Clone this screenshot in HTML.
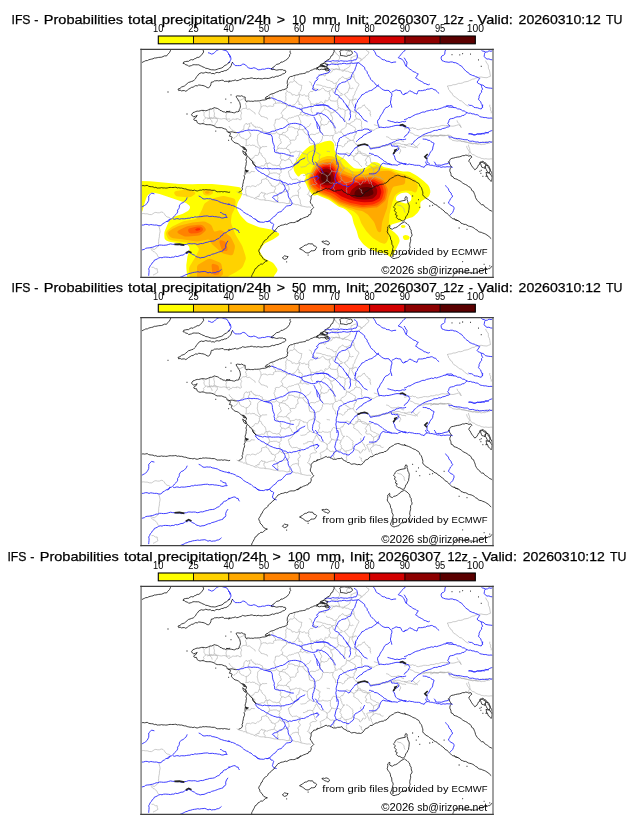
<!DOCTYPE html><html><head><meta charset="utf-8"><style>html,body{margin:0;padding:0;background:#fff;width:630px;height:828px;overflow:hidden}svg{display:block;will-change:transform}text{font-family:"Liberation Sans",sans-serif}</style></head><body><svg width="630" height="828" viewBox="0 0 630 828" font-family="Liberation Sans, sans-serif" fill="#000">
<defs><clipPath id="fc"><rect x="0" y="0" width="351.9" height="228"/></clipPath>
<g id="mapg"><path d="M225,0.5 226.2,2 227.9,2.7 227.4,4.2 226.4,5.5 224.6,6.6 223.6,8.4 221.9,9 220.9,10.6 219.3,11.3 217.9,13.4 M189.3,19.8 191.1,19.6 192.9,20.1 194.6,19.6 196.4,19.8 198.3,19.8 199.9,20.9 201.8,20.8 203.6,21.3 204.9,22 206.5,21.9 207.9,22.6 209.2,23.3 210.9,23.2 212.1,24.1 212.9,25.9 212.9,28 213.6,29.8 214.3,31.5 215.3,33 217.1,33.9 217.9,35.5 217.1,37 216.2,38.3 215.7,39.8 215,41.3 214.1,42.6 213.8,44.3 213.2,45.7 212.1,47 212,49 211.6,50.9 210.7,52.7 211.4,54.1 212.1,55.5 212.8,57 213.6,58.4 M175,35.5 176.8,35.5 178.5,35.8 180.2,36.1 181.8,37 183.6,37 185.4,37.9 187.3,38.3 189.3,38.4 190.7,39.6 191.8,41 192.1,43 193.6,44.1 M344.4,11.3 345.1,12.7 345.8,14.2 347,15.3 347.3,17 347.3,19 348.3,20.8 348.7,22.7 349,24.8 349.4,27 347.6,27.6 345.9,28.4 343.9,28.3 342,28.1 340.1,27.7 338,27.9 335.9,28.4 334.4,28.9 333.1,29.7 331.5,29.8 330.1,30.5 328.4,31.3 326.7,32.1 324.9,32.4 323,32.7 321.3,33.7 319.5,34.1 317.6,34 315.9,34.8 314,35.4 312,35.4 310.1,36.3 308,36.4 305.9,37 307.2,38.2 307.4,40.1 308.7,41.3 309.3,42.9 311,43.9 311.6,45.5 312.7,47 314.5,47.9 315.9,49.1 317.3,50 318.5,51.3 320.3,51.6 321.6,52.7 323,53.8 324.2,55.2 325.7,56.1 327.3,57 M69,59.7 68.2,61.7 68.3,64 68.1,65.9 68.4,67.8 69,69.7 70.5,71.2 71.1,73.3 M66.1,69.7 67.9,69.1 69.7,69.1 71.5,69.1 73.3,69 75.1,69.3 76.9,68.9 78.6,69.5 80.4,69.7 82.1,69.3 83.9,69.3 85.6,69.9 87.3,69.7 89,69.7 M226.4,79.7 228.4,80 230.3,80.5 232.1,81.1 233.6,80.5 234.8,79.3 236.4,78.9 237.9,78.3 M229.3,99.7 230.7,99 232.1,98.3 233.9,98.3 235.5,98.1 237.2,97.7 238.8,97 240.5,97.3 242.1,96.8 244,96.9 245.7,96.2 247.5,95.6 249.3,95.4 M252.1,95.4 253.9,95.8 255.8,95.8 257.5,96.7 259.3,96.8 261.1,97.8 263.1,97.8 265,98.3 M263,79.7 264.7,79.4 266.4,78.8 268.1,78.6 269.9,79 271.6,78.3 272.9,79.2 274.5,79 275.7,80.2 277.3,80.4 279,79.9 280.9,79.7 282.6,79 284.4,79 286.3,79.2 288,79.1 289.8,78.1 291.6,78.3 293.4,78 295.1,77.2 297,77.6 298.7,76.8 300.5,76.2 302.2,76.1 304.1,76.5 305.9,76.1 308,76.3 310.1,76.8 312,76.9 313.8,76.5 315.5,76 317.3,75.4 319,76.6 320.1,78.3 319.5,76.7 318.8,75.2 317.5,74 316.4,72.8 315.9,71.1 M281.6,86.1 283.3,86 284.9,86.2 286.6,86.7 288.3,86.3 289.9,86.4 291.6,86.8 293.3,86.4 295,86.7 296.7,86.7 298.4,86.1 300.1,86.1 301.9,86.3 303.6,86.5 305.3,86.2 307,85.8 308.7,86.1 310.2,86.8 311.3,88.3 312.9,88.9 314.4,89.7 315.9,90 317.2,90.8 318.8,90.7 320,92 321.6,92 323,92.5 324.7,92.9 326.4,93.1 328.2,93 329.8,93.8 331.6,94 333.3,94 335,94.3 336.7,95.1 338.5,94.7 340.1,95.4 341.8,94.9 343.6,95.1 345.2,94.3 347,94 348.7,94 M327.3,95.4 327.7,97.3 328.5,99.1 328.7,101.1 329.1,102.7 330.1,104 331.3,105.3 333.3,105.5 334.4,106.8 335.9,107.3 337.2,108 338.8,108.1 340,109.1 341.6,109.2 343,109.7 344.7,109.4 346.4,109.7 348.1,109.8 349.9,109.5 351.6,109.7 M263,95.4 264.9,96 266.7,96.6 268.7,96.8 270.6,97.3 272.5,97.8 274.4,98.3 275.7,97.4 276.7,96.2 277.7,95.1 278.7,94 M348.7,55.4 348.6,57.2 349.6,58.8 349.3,60.6 350.2,62.2 350.1,64 M289,87.5 290.6,87.5 292,86.5 293.5,86.5 295.1,86.5 296.9,86.9 298.6,86.1 300.4,86.4 302.2,86.5 303.9,86.1 305.6,86.1 307.3,86 308.2,87.6 308.3,89.5 310,89.6 311.2,91 312.8,91.3 314.4,91.5 316.1,91.9 317.8,91.6 319.5,91.8 321.2,92.3 322.9,92.2 324.6,92.6 326.4,93.1 328,94 330,94 331.7,94.6 333.2,94.2 334.8,94.6 336.3,94 337.8,93.6 339.3,92.9 340.8,93 342.4,93 343.9,92.6 345.7,92.2 347.4,92.4 349.2,92.8 351,92.6 M325.6,96.6 325.8,98.3 326.6,99.7 327.5,101.3 328.6,102.7 327.7,104.1 327.6,105.8 M228.3,98.8 230,98.5 231.6,98.2 233.3,98.4 235,97.7 236.7,97.9 238.3,97.4 239.9,96.8 241.5,96.6 243.1,96.2 244.8,96.2 246.4,95.6 248,95.3 249.7,95.3 251.4,94.6 253.3,94.5 255.1,94 256.9,93.8 258.7,94.1 260.3,95 262.2,95.1 264,95.3 265.8,95.5 267.5,94.6 269.3,94.6 271.1,94.5 272.8,95.2 273.9,96.8 275.5,97.6 276.9,98.8 M268.3,83.1 269.8,83.6 271.4,84.1 272.7,85 274,86 275.8,86.1 277.6,86.6 279.2,87.5 281.1,87.4 282.9,87.3 284.7,86.5 286.5,86.2 288.3,86 289.9,85.7 291.4,86.4 293,85.9 294.6,86.3 296.1,86.2 297.7,86.4 299.3,85.5 300.9,85.8 302.4,85.9 304,86 M256.9,96 258,97.2 258,99 259.2,100.2 259.7,101.7 258.8,103 258.3,104.5 M214,104.5 215.8,104.3 217.5,103.7 219.3,103.9 221.1,103.8 222.7,104.3 224.2,104.8 225.6,105.6 226.8,106.8 228.3,107.4 229.2,109.2 229.4,111.2 229.7,113.1 231.2,113.7 232.5,114.6 234.2,114.9 235.3,116.2 237,116.5 238.3,117.4 237.5,118.7 237,120.2 236.9,121.8 236.3,123.2 235.4,124.5 233.8,125.2 232,125.3 230.4,126 228.8,126.5 227,126.6 225.4,127.4 226.2,128.7 226.8,130.2 227.3,131.6 228,133 228.3,134.5 M245,87.4 246.7,87.7 248.2,88.5 249.4,89.8 251,90.4 252.5,90.2 254.1,90.2 255.6,90.1 257,89.4 258.6,90 259.9,91.1 261.3,92 263,92.4 M0.4,164.5 2.3,164.2 4.2,164.5 6.1,164.5 8.2,165.2 10.4,165.3 11.8,164.5 13.1,163.5 14.7,163.1 16.5,163.5 18.3,163.5 20.1,162.7 21.9,163.1 23,164.2 23.8,165.5 24.7,166.7 26,167.7 27.6,168 29,168.8 M95.6,142.4 96.9,143.2 98.3,143.8 99.8,144.3 101.3,144.5 102.5,145.5 104.3,145.2 105.4,146.6 107,146.7 108.5,147.1 109.8,147.9 111.4,148.1 112.7,148.8 114.5,149.7 116.6,149.3 118.4,150.3 120.3,150.6 122.3,150.5 124.1,151 126.1,151.1 128,151.3 129.9,151.7 131.6,152.2 133.4,152.7 135.2,152.6 137,153.1 138.8,153.4 140.6,153.3 142.4,153.4 144.1,153.8 145.9,154.4 147.7,154 149.5,154 151.3,154.5 153.1,154.7 154.8,155.5 156.7,155.3 158.4,156 160.3,156.7 162.2,157 164.1,157.4 166,157.8 168,157.6 169.9,158.1 M256,155.4 257.9,156.2 260,156.4 261.4,158 263,159.4 263.1,161.5 264,163.4 M17.6,176.5 18.2,178.4 18.7,180.3 19,182.3 18.6,184 18.3,185.7 18.3,187.4 17.9,189.1 17.6,190.8 17.6,192.5 17.3,194.2 17.6,195.8 16.8,197.2 15.7,198.3 14.5,199.2 13.3,200.1 11.8,199.9 10.5,198.9 9,198.7 M9.7,200.1 11,200.9 12,202.2 13.5,202.7 14.7,203.7 15.8,205 16.5,206.6 17.6,208 M10.4,218 12.4,218 14.1,219.4 16.1,219.4 16.2,221.3 16.9,223 15.3,224.1 13.6,225 11.9,225.8 M242.4,129.6 241.3,129.9 239.3,129.0 239.1,127.8 237.1,127.9 235.4,127.3 234.5,127.2 233.2,127.7 232.0,128.7 M232.4,138.0 231.7,137.8 231.4,136.4 231.2,135.8 230.4,135.2 230.2,134.2 230.4,132.7 229.2,132.3 229.1,131.5 M232.0,128.7 230.9,129.5 230.4,129.7 229.8,130.4 229.1,131.5 M211.8,130.3 212.7,131.3 213.5,131.4 214.5,132.3 215.9,132.4 217.0,133.2 218.2,133.5 218.4,135.2 219.1,135.6 M211.8,130.3 212.0,129.5 211.6,128.9 212.1,128.0 211.4,127.4 212.1,126.3 211.5,124.9 211.6,124.4 212.2,123.7 M219.8,120.4 219.5,122.5 220.3,123.3 221.0,124.4 222.2,126.3 222.7,127.1 223.0,126.7 223.2,127.4 223.3,128.6 224.8,130.2 224.8,131.5 M224.8,131.5 224.5,132.1 223.5,132.6 222.5,131.9 221.3,132.4 221.3,133.7 220.1,134.3 219.9,135.2 219.1,135.6 M222.3,144.7 221.6,144.1 220.7,143.7 220.2,142.2 220.1,141.8 220.5,140.6 219.7,140.6 218.4,139.7 218.5,139.0 M214.7,6.5 216.0,6.7 216.4,7.3 216.9,8.5 217.5,8.7 219.1,8.7 219.1,9.7 220.3,9.9 221.2,10.5 M232.0,128.7 231.9,127.6 232.4,126.5 231.7,125.1 231.3,123.9 232.4,122.7 232.5,121.9 232.3,120.6 232.7,119.7 M232.7,119.7 234.0,119.1 234.9,118.5 236.0,118.2 236.3,117.8 M238.1,76.9 236.4,76.3 235.1,76.1 233.8,75.6 232.8,75.4 M232.7,119.7 232.0,119.2 230.6,118.5 230.3,117.3 228.8,116.7 228.1,116.2 227.4,116.4 226.0,116.5 224.8,115.8 M211.8,130.3 210.9,130.9 210.5,132.0 209.2,132.2 208.3,132.6 207.8,133.0 206.7,133.1 205.9,133.1 204.8,133.4 M204.8,133.4 205.0,134.6 205.7,135.8 205.3,137.6 205.9,138.4 205.0,140.4 205.6,140.9 205.7,143.1 205.5,144.1 M212.2,123.7 211.3,122.8 210.5,122.6 209.7,121.9 209.3,121.1 208.1,120.2 207.5,119.6 206.0,118.6 204.9,118.7 M220.9,117.8 219.6,116.2 219.1,115.7 218.3,115.2 217.5,113.7 216.6,112.6 215.2,112.1 214.1,111.0 212.8,110.6 M224.8,115.8 224.6,114.1 225.7,113.8 225.3,112.5 224.1,110.9 225.0,109.7 225.1,109.1 226.5,107.9 226.7,106.9 M231.1,104.7 230.1,105.3 229.4,106.3 227.2,106.0 226.7,106.9 M204.8,133.4 203.2,133.5 202.7,132.2 202.0,131.4 200.7,130.6 M193.7,141.7 193.2,140.5 193.3,140.0 192.6,139.6 192.3,138.5 193.0,137.2 193.1,137.0 193.3,136.0 193.0,135.0 M193.0,135.0 193.6,133.9 194.6,134.4 196.2,133.5 196.7,132.9 198.2,132.5 199.4,132.7 199.8,131.2 200.7,130.6 M203.6,118.7 201.9,119.4 201.8,120.8 200.6,122.0 199.8,123.4 M199.8,123.4 199.9,124.6 199.0,124.8 198.9,126.3 199.3,126.8 200.4,128.1 200.0,129.2 200.5,130.0 200.7,130.6 M60.4,61.3 61.9,61.6 62.5,62.3 63.3,63.8 62.8,64.2 62.9,65.3 63.0,66.6 63.6,67.2 64.3,68.6 M73.2,58.3 72.8,59.4 72.9,60.4 72.7,62.2 73.2,63.3 73.4,64.7 73.1,65.7 73.1,66.6 74.0,67.9 M74.0,67.9 72.9,67.7 71.3,68.7 70.2,68.1 69.6,68.4 67.9,68.7 67.2,68.8 65.5,68.5 64.3,68.6 M64.3,68.6 64.1,69.2 63.4,70.0 63.0,70.2 62.2,70.9 63.0,72.3 62.5,72.8 61.7,74.2 61.6,74.7 M105.9,146.3 105.4,145.3 104.7,143.8 104.6,142.9 104.7,141.5 104.3,140.3 104.7,139.5 105.3,137.5 105.9,136.7 M74.0,67.9 74.8,68.3 75.8,68.7 75.9,69.5 76.3,70.0 M76.3,70.0 76.3,71.4 76.3,72.0 75.3,72.4 75.3,73.2 74.1,74.2 73.8,75.6 73.6,76.3 73.9,77.1 M85.3,69.3 85.2,68.6 85.1,67.7 84.8,66.8 85.3,65.1 85.5,65.0 85.9,63.5 86.2,62.6 87.2,61.8 M96.8,50.8 97.9,51.4 98.8,50.7 99.4,50.8 100.8,50.1 100.7,50.2 101.6,49.8 102.6,49.4 103.4,48.4 M98.3,61.1 99.4,61.7 M99.4,61.7 100.2,60.8 100.7,60.1 101.3,59.6 101.7,59.4 102.7,59.1 103.5,59.2 104.0,58.8 105.0,59.0 M105.0,59.0 105.7,57.8 105.0,56.8 105.2,55.6 104.1,54.7 104.9,54.0 105.9,53.0 105.7,52.0 106.1,50.8 M133.2,142.8 133.3,141.0 133.8,140.7 134.5,139.4 133.8,137.6 M133.2,142.8 131.8,143.3 130.6,143.2 129.8,143.5 128.3,143.9 127.1,144.3 125.7,145.1 125.1,144.4 123.8,144.5 M133.8,137.6 133.4,137.6 132.7,136.7 131.1,137.0 130.9,135.9 129.9,136.1 130.1,135.6 129.7,134.2 128.5,133.9 128.6,133.4 127.7,132.3 127.9,131.6 126.8,131.0 126.4,130.6 125.9,129.8 125.3,130.0 124.7,129.1 M123.8,144.5 123.3,143.5 122.0,143.8 121.1,143.8 120.7,142.6 M118.0,135.1 118.9,134.4 120.3,133.7 120.5,131.8 120.4,130.6 M124.7,129.1 123.8,129.7 123.0,129.8 121.8,130.0 120.4,130.6 M124.3,151.0 123.8,150.4 124.3,149.3 123.0,148.2 122.7,147.8 122.8,146.7 122.8,145.7 123.9,145.3 123.8,144.5 M136.8,153.1 136.9,152.3 137.1,151.0 136.3,150.8 136.6,149.3 137.2,148.4 136.2,147.7 136.2,146.9 136.4,146.4 M136.4,146.4 136.2,144.9 135.1,144.4 134.3,143.8 133.2,142.8 M113.4,149.0 114.4,148.2 115.8,148.0 116.3,147.0 118.0,147.2 118.1,145.5 118.8,144.5 120.3,143.4 120.7,142.6 M105.9,136.7 106.8,137.3 107.6,137.1 108.5,137.0 109.3,137.5 109.5,137.5 110.1,137.0 111.0,136.5 112.0,136.5 112.6,136.7 114.1,137.2 114.8,137.3 115.3,136.8 115.5,136.4 116.5,135.4 117.3,135.7 118.0,135.1 M113.7,122.3 112.9,122.4 111.5,122.2 110.0,122.1 109.6,123.3 107.6,123.9 107.2,123.2 105.9,123.8 104.5,123.8 M212.8,110.6 212.4,109.9 212.9,108.9 212.8,108.1 212.7,106.9 M226.7,106.9 225.2,106.5 224.1,106.3 222.7,106.1 220.9,105.4 220.2,104.7 219.8,103.9 219.1,101.9 217.2,102.0 M212.7,106.9 214.0,106.5 214.5,106.0 214.9,106.1 215.4,105.5 216.2,104.6 216.1,103.7 217.0,102.6 217.2,102.0 M180.2,141.2 179.5,139.3 179.9,137.9 179.5,136.5 178.8,135.5 M193.0,135.0 192.2,133.6 191.4,133.6 190.2,134.0 188.6,133.6 188.4,132.9 186.9,131.8 186.0,131.4 185.9,130.2 M178.8,135.5 179.6,135.1 180.3,134.7 182.1,134.2 182.3,133.6 183.8,133.0 184.4,132.4 185.7,131.6 185.9,130.2 M153.5,31.4 153.9,32.1 155.4,32.7 155.6,33.7 156.6,34.2 158.1,35.4 158.4,35.5 160.2,36.0 160.9,36.0 M153.1,26.5 153.6,27.3 153.2,29.2 152.7,30.0 153.5,31.4 M157.7,45.3 156.8,45.9 155.8,46.0 155.6,46.3 154.5,46.1 153.4,45.3 153.1,45.4 152.0,45.4 151.0,45.9 150.8,45.2 150.6,44.2 149.5,43.7 149.1,43.7 148.5,42.8 147.6,43.0 146.9,42.4 146.0,42.0 M144.4,39.6 145.3,40.6 146.0,42.0 M153.5,31.4 152.0,32.2 151.1,33.0 150.0,32.6 148.9,32.7 147.9,34.0 147.3,35.1 146.4,35.7 146.5,36.7 M157.7,45.3 158.0,45.1 M158.0,45.1 157.8,43.5 158.4,42.7 159.3,41.9 159.6,40.8 160.4,39.4 160.2,38.7 160.5,37.0 160.9,36.0 M88.1,76.7 88.3,78.0 89.9,79.3 91.0,80.5 91.5,81.5 93.2,81.8 95.0,83.1 95.8,83.3 97.5,83.7 M88.0,72.6 88.8,71.1 90.6,70.8 91.2,70.0 91.7,69.6 92.5,69.8 93.6,70.0 94.6,69.9 95.3,70.2 95.4,69.3 96.9,69.5 97.6,69.6 97.9,70.3 99.0,70.4 99.7,70.5 M97.6,83.7 98.5,82.7 100.5,81.7 101.3,80.5 102.6,80.4 102.8,78.1 102.9,76.6 103.7,75.4 104.5,74.4 M92.8,89.5 92.7,88.8 93.8,88.3 94.6,87.5 95.9,86.8 96.2,86.1 96.3,85.5 97.3,84.4 97.5,83.7 M85.3,69.3 85.1,70.1 86.4,71.1 87.5,72.1 88.0,72.6 M99.4,61.7 100.2,62.9 100.6,63.8 100.0,64.9 99.8,65.8 99.7,66.8 99.8,67.9 100.4,69.7 99.7,70.5 M120.0,57.7 119.8,56.0 119.8,55.1 119.3,54.1 118.4,52.6 M120.0,57.7 121.2,57.0 122.9,56.2 123.3,56.5 124.9,56.5 124.8,56.8 126.3,57.5 127.8,56.8 129.2,56.7 130.4,57.0 132.0,57.1 M132.0,57.1 132.8,56.4 132.3,55.0 133.1,54.5 134.4,54.0 M134.4,54.0 134.4,52.5 133.6,51.2 132.3,50.5 132.9,49.5 131.8,48.1 132.0,46.8 131.3,45.5 131.3,44.4 M146.0,42.0 145.2,43.0 144.9,43.6 144.7,44.5 144.5,44.4 144.9,45.5 144.9,46.4 144.5,47.4 144.8,48.6 144.8,49.2 144.7,49.8 145.0,50.7 144.8,51.1 144.4,51.7 143.5,52.4 143.7,53.3 143.5,54.4 M143.5,54.4 142.1,54.4 140.9,54.2 139.9,53.9 139.0,53.3 138.1,53.7 136.4,53.6 135.3,54.0 134.4,54.0 M136.4,146.4 137.3,145.9 138.6,144.3 139.8,143.6 141.4,143.5 142.4,142.5 144.6,142.4 145.5,142.2 147.2,142.3 M147.5,154.1 148.3,153.3 148.6,151.7 148.4,150.9 149.2,150.1 149.5,149.0 150.5,147.7 150.8,147.4 152.0,146.6 M160.1,156.4 160.0,155.4 159.2,153.8 159.2,152.2 159.2,151.6 158.5,149.6 158.1,148.9 157.4,148.2 157.3,146.4 M152.0,146.6 153.1,146.5 154.8,145.9 156.0,146.2 157.3,146.4 M166.3,145.1 167.3,145.7 168.7,146.0 168.6,147.3 169.7,148.0 M157.3,146.4 157.5,146.2 M133.8,137.6 134.8,136.7 135.3,136.4 135.6,136.3 136.4,135.8 137.5,135.4 137.6,134.4 138.0,133.8 138.9,133.6 M147.2,142.3 146.9,141.5 146.9,140.8 148.3,140.2 147.7,138.7 147.8,138.0 147.2,137.3 147.6,137.0 146.6,135.8 M138.9,133.6 139.9,134.7 140.8,135.0 141.8,135.1 142.3,135.8 143.9,136.0 144.3,135.5 146.0,136.2 146.6,135.8 M158.7,131.2 157.8,131.2 156.6,130.4 155.8,130.0 155.6,129.6 153.7,130.1 152.7,129.6 152.0,130.4 151.4,130.5 M158.7,131.2 158.7,132.6 159.1,133.6 158.5,134.6 157.4,134.8 157.6,136.4 158.6,137.3 159.2,138.1 159.1,138.8 158.8,139.6 157.7,140.5 156.9,140.9 156.8,142.7 157.6,142.8 157.4,144.3 157.2,145.2 157.5,146.2 M203.6,118.7 202.1,118.6 201.2,117.7 200.7,116.5 200.8,115.5 199.7,114.6 199.9,113.6 199.5,112.3 198.7,111.2 M212.7,106.9 211.6,106.9 210.8,105.6 209.4,105.9 208.3,104.2 207.1,104.1 205.9,103.3 204.7,104.0 203.9,104.4 M203.9,104.4 203.7,105.7 203.3,106.4 202.8,107.4 202.0,108.1 201.7,109.4 200.4,109.2 199.7,110.1 198.7,111.2 M143.5,54.4 144.7,55.5 145.4,56.4 M145.4,56.4 147.1,56.5 148.0,56.8 M157.7,45.3 157.9,45.9 158.8,46.5 158.2,47.8 157.9,48.5 157.1,49.3 156.9,51.2 M156.9,51.2 156.2,51.7 155.3,53.3 154.6,54.0 153.2,55.6 151.7,55.9 150.9,56.3 149.6,56.8 148.0,56.8 M105.3,90.1 104.3,90.5 102.9,89.1 101.3,88.8 100.1,88.4 99.1,86.9 98.0,86.3 98.6,85.4 97.6,83.7 M105.3,90.1 105.2,92.1 105.2,93.2 105.1,95.3 104.5,96.3 M145.4,56.4 145.4,56.8 145.5,57.8 144.9,58.7 144.0,59.6 143.3,59.5 142.8,60.8 141.9,60.6 141.7,61.5 141.3,62.1 140.2,63.5 140.0,64.2 140.7,65.1 141.4,65.7 141.7,66.5 141.2,67.8 141.1,68.5 M141.1,68.5 140.1,67.9 139.7,68.5 138.7,69.5 138.2,69.8 137.2,70.0 136.6,69.8 135.8,70.0 134.8,69.8 M192.2,110.0 191.4,110.8 190.8,112.3 190.4,113.3 189.2,114.2 M179.2,105.4 178.2,106.9 178.1,107.8 177.9,108.4 178.7,110.5 177.8,111.8 177.1,112.8 177.9,113.4 177.5,114.8 M188.9,102.3 188.2,102.3 187.7,102.1 186.9,102.2 185.6,101.8 M177.5,114.8 179.1,114.7 180.6,114.8 181.5,113.6 183.2,114.5 185.2,114.6 186.7,114.8 187.7,114.3 189.2,114.2 M199.8,123.4 198.4,122.7 197.6,122.2 196.5,122.2 195.0,122.5 193.7,122.5 192.9,122.3 191.3,121.6 190.6,122.6 M198.7,111.2 198.3,111.1 197.2,110.8 195.9,110.9 195.0,111.2 194.5,110.1 194.0,110.4 192.8,109.8 192.2,110.0 M189.2,114.2 189.4,115.2 189.2,116.1 189.4,117.7 189.3,118.0 189.3,119.8 189.6,120.1 190.4,121.2 190.6,122.6 M185.9,130.2 186.2,129.3 186.2,128.7 186.1,128.2 186.3,127.0 M190.6,122.6 189.1,123.6 188.8,125.4 187.5,125.7 186.3,127.0 M135.3,83.2 136.6,84.0 137.0,84.3 137.9,84.9 138.7,85.2 M129.2,84.9 130.0,84.8 130.6,84.1 131.2,84.5 132.0,84.3 132.9,84.5 133.8,84.3 134.3,84.0 135.3,83.2 M135.3,100.8 135.7,100.2 136.8,99.6 M136.8,99.6 136.8,99.0 136.6,97.3 137.0,96.8 137.9,95.5 138.4,95.1 138.9,94.4 140.0,94.0 140.2,92.6 139.2,91.4 139.4,90.7 139.5,89.9 138.9,89.3 137.8,88.4 138.3,87.3 138.6,86.1 138.7,85.2 M212.5,39.2 211.9,38.6 210.3,39.4 209.7,39.0 208.2,38.9 M213.0,27.7 212.2,27.8 210.4,26.9 210.0,27.5 208.7,27.6 208.5,28.2 206.6,28.9 206.1,29.2 205.0,29.2 M208.2,38.9 208.6,37.5 208.7,36.5 207.9,34.9 207.5,33.6 206.9,32.8 206.4,31.4 205.7,30.1 205.0,29.2 M187.9,42.6 188.4,41.3 189.2,41.5 190.3,40.8 191.3,39.5 191.4,39.2 193.1,39.2 193.5,38.9 194.9,38.7 M188.2,49.8 187.8,48.4 188.3,48.4 189.2,47.2 189.0,45.8 188.7,45.2 188.0,44.7 188.5,43.0 187.9,42.6 M194.9,38.7 195.7,40.1 196.7,40.2 197.1,41.3 197.9,42.2 198.9,43.3 199.8,44.3 200.9,44.2 201.7,45.2 M188.2,49.8 189.3,50.6 189.5,51.4 190.8,51.6 192.0,51.7 193.0,51.7 193.8,52.0 195.4,51.6 196.0,51.8 M196.0,51.8 196.4,51.0 196.7,50.1 197.4,48.5 197.7,47.5 198.7,46.9 199.1,45.8 201.0,45.9 201.7,45.2 M166.5,105.1 165.2,105.1 164.4,104.6 163.9,104.7 162.2,104.3 162.7,104.3 161.5,103.7 160.3,102.9 159.6,102.4 M155.6,115.3 156.0,113.9 156.4,113.7 155.7,112.6 155.8,111.8 155.4,110.9 155.2,109.6 155.2,109.4 156.0,108.5 157.0,108.4 157.7,107.4 157.7,106.1 158.1,106.1 158.2,104.9 158.6,104.2 158.7,103.4 159.6,102.4 M166.5,105.1 166.2,105.9 166.2,107.3 166.5,108.7 166.6,109.2 166.7,110.9 167.2,111.7 167.5,112.4 168.8,113.2 M159.3,117.5 160.2,117.8 162.5,117.5 163.5,117.4 165.0,116.8 166.1,115.8 166.4,115.0 168.2,114.4 168.8,113.2 M166.5,105.1 166.8,104.2 167.8,103.3 167.9,103.0 169.3,102.3 169.7,102.1 170.6,102.2 171.3,101.4 172.5,101.4 M179.2,105.4 178.2,104.9 177.2,104.6 177.2,103.8 176.1,103.7 174.5,102.5 174.1,101.5 173.4,101.8 172.5,101.4 M168.8,113.2 169.5,113.7 170.3,113.9 170.9,115.0 172.4,114.7 173.4,115.3 173.6,115.1 174.6,116.4 175.4,116.9 M186.3,127.0 185.0,126.5 185.4,126.2 184.0,125.4 182.8,124.4 182.3,124.6 181.2,124.0 180.7,124.1 179.9,123.9 179.1,122.9 178.3,122.4 177.7,121.0 177.7,120.8 176.8,119.9 176.5,119.4 175.7,117.6 175.4,117.4 M201.9,97.9 200.8,96.9 200.0,96.6 199.7,96.3 198.6,96.2 197.2,96.3 195.9,96.2 195.5,96.7 194.4,96.4 M110.3,109.7 110.9,109.1 112.7,108.4 113.2,107.1 114.0,106.0 116.2,106.2 117.3,105.6 117.4,104.3 118.3,102.9 M110.3,109.7 110.6,110.4 111.3,111.7 112.2,112.2 113.8,113.2 113.8,113.9 113.4,115.1 114.4,116.2 115.4,117.3 M118.3,102.9 118.6,103.8 119.6,103.6 120.3,104.6 120.2,105.4 121.0,106.6 121.8,106.8 121.5,107.2 122.2,107.9 123.1,108.8 124.0,109.2 124.0,109.5 124.4,110.5 124.8,111.6 124.6,112.7 125.4,113.4 125.2,113.9 M115.4,117.3 116.7,117.2 117.9,117.5 119.4,117.0 120.7,116.4 122.3,116.7 123.7,116.1 123.9,114.6 125.2,113.9 M119.2,98.9 118.4,98.8 117.5,98.9 116.7,98.0 115.6,97.4 114.6,97.5 113.9,96.5 113.4,95.8 111.8,96.1 111.6,95.6 110.6,96.1 109.6,96.3 108.6,95.4 107.9,95.9 106.7,96.2 105.9,96.2 104.5,96.3 M119.2,98.9 119.0,100.1 118.0,100.6 118.5,101.5 118.3,102.9 M108.3,109.5 109.5,109.6 110.3,109.7 M126.0,97.3 125.0,97.2 124.8,97.3 123.7,97.1 123.1,97.6 121.7,97.1 120.8,97.6 120.6,98.2 119.5,98.6 M119.2,98.9 119.5,98.6 M125.2,113.9 126.0,114.1 M126.0,114.1 127.5,114.2 127.8,113.3 M124.7,129.1 125.7,128.3 125.6,127.0 126.0,126.5 127.2,125.9 M126.0,114.1 126.1,115.8 126.3,117.2 126.9,118.1 127.0,118.8 127.1,119.5 128.2,120.1 127.5,121.1 128.5,122.5 128.2,124.1 127.2,125.9 M138.9,133.6 138.9,132.9 138.5,131.6 139.2,130.5 138.6,129.4 137.9,128.3 138.9,126.3 138.7,125.7 137.8,124.7 M127.2,125.9 128.5,124.5 129.1,124.0 131.2,123.9 132.5,123.6 134.2,123.7 135.3,123.6 136.8,124.6 137.8,124.7 M129.2,84.9 129.0,84.2 128.0,83.8 126.4,83.2 125.4,83.0 125.3,82.7 123.6,82.4 123.2,82.3 122.1,81.7 M119.5,98.6 119.2,97.4 118.0,96.6 117.2,95.3 116.9,94.1 116.6,92.4 116.1,90.6 116.5,89.0 116.5,88.0 M122.1,81.7 121.5,82.5 120.6,82.9 119.0,83.5 118.8,83.7 117.4,84.8 116.6,85.9 116.5,87.2 116.5,88.0 M104.5,74.4 105.9,74.3 106.3,75.2 107.4,74.5 108.5,74.4 M105.3,90.1 107.1,89.7 107.8,88.7 108.7,87.4 110.0,86.6 M108.5,74.4 108.5,75.2 108.5,75.6 108.8,77.2 108.1,77.1 107.6,78.2 107.0,79.4 107.9,79.9 107.1,81.0 107.7,82.0 108.0,82.4 108.4,82.8 108.6,83.9 109.4,83.9 109.7,85.1 109.4,86.2 110.0,86.6 M141.1,68.5 142.2,68.6 143.0,69.7 144.4,69.8 145.3,70.7 M145.3,70.7 146.2,70.2 148.0,68.6 149.4,68.7 151.1,68.0 152.5,67.9 153.4,67.0 154.4,67.0 156.1,66.3 M205.8,0.0 206.5,1.9 205.9,3.4 205.4,4.6 206.2,5.9 M193.1,0.0 193.5,1.1 193.3,2.2 194.7,2.9 194.7,4.0 195.8,4.6 197.1,6.1 198.1,6.6 198.4,7.7 M214.7,6.5 213.9,6.7 212.5,7.1 211.0,8.1 209.9,8.0 M208.9,16.3 208.7,15.6 209.6,14.2 210.2,12.9 210.9,12.7 210.2,11.5 209.7,10.3 210.0,8.9 209.9,8.0 M196.3,13.3 197.1,12.0 197.2,10.6 198.6,9.5 198.4,7.7 M196.3,13.3 194.9,14.1 193.9,13.8 192.4,13.6 190.8,13.9 189.4,12.1 187.6,11.7 186.4,12.2 185.0,12.0 M208.2,38.9 207.6,39.8 207.8,40.6 206.8,42.0 206.6,43.1 205.3,43.5 204.2,44.2 204.1,44.9 203.0,45.1 M194.9,38.7 194.9,37.6 194.6,36.3 195.2,35.3 195.1,33.7 M205.0,29.2 204.1,29.1 203.1,28.9 202.2,28.1 201.9,27.3 M195.1,33.7 196.0,32.8 197.0,32.0 197.3,31.5 198.0,29.6 199.3,29.4 199.7,28.8 200.6,27.9 201.9,27.3 M184.4,12.5 184.7,13.8 184.9,15.3 185.5,16.2 186.4,17.5 186.5,19.5 187.0,21.0 186.6,22.2 186.3,23.3 M196.3,13.3 197.2,14.0 197.0,15.0 196.9,15.8 197.0,16.5 197.7,17.4 198.2,18.7 198.2,19.8 199.0,20.4 M186.3,23.3 187.6,23.9 188.1,23.0 189.5,23.4 190.2,22.7 190.7,22.6 191.5,21.1 191.5,20.9 192.5,19.9 192.6,20.6 193.6,20.4 194.5,20.0 195.4,19.7 196.0,20.1 197.2,20.3 198.1,20.6 199.0,20.4 M208.9,16.3 208.4,17.4 206.8,18.5 205.9,18.9 204.9,19.8 203.6,19.8 203.5,20.7 202.0,22.0 200.6,21.7 M207.0,59.8 207.4,58.9 206.8,57.4 207.4,56.8 207.9,55.2 208.1,54.0 208.4,53.7 208.2,52.6 209.0,51.3 M207.0,59.8 208.5,59.8 209.4,60.7 209.3,61.4 210.5,61.8 211.5,62.2 212.6,62.8 214.3,62.8 215.1,62.7 M209.0,51.3 209.4,50.6 210.9,50.8 211.3,50.2 212.1,50.8 213.6,50.2 213.8,49.5 215.5,50.0 216.0,49.8 M215.1,62.7 215.1,60.8 216.7,60.1 216.9,58.7 218.4,58.6 219.9,58.5 220.8,57.6 221.6,56.2 223.4,55.9 M223.4,55.9 223.5,55.3 M203.0,45.1 203.9,46.2 204.8,46.9 204.9,47.2 206.1,48.2 206.6,49.2 207.5,49.8 208.0,50.6 209.0,51.3 M229.8,67.1 229.3,66.3 229.6,65.2 228.9,65.1 228.9,63.7 229.2,63.4 229.0,62.0 228.7,61.0 227.4,61.2 227.3,60.8 226.8,59.5 225.9,58.7 225.5,58.9 224.5,57.7 224.3,57.2 223.6,56.4 223.4,55.9 M220.1,71.7 219.3,71.0 218.6,69.7 216.9,70.1 216.0,69.3 M216.0,69.3 214.8,68.3 214.5,67.8 214.4,66.7 214.4,65.7 215.1,65.3 214.8,64.3 215.1,63.2 215.1,62.7 M229.9,67.1 229.8,67.1 M172.5,101.4 173.0,99.4 173.3,97.9 173.3,96.6 172.9,95.3 M172.9,95.3 171.7,94.3 170.5,94.4 168.6,93.7 168.2,91.9 M172.9,95.3 173.6,94.7 174.7,95.0 175.8,94.5 176.7,93.9 177.6,94.2 178.2,93.5 179.3,92.5 179.9,92.2 M161.9,126.3 163.7,126.2 164.6,125.5 166.1,125.3 166.8,123.7 167.5,124.2 168.9,123.8 170.9,124.3 171.8,124.1 M171.8,124.1 171.7,125.2 172.5,126.8 172.5,128.0 172.8,129.6 174.0,130.7 173.6,132.5 175.0,133.5 175.9,134.5 M169.0,136.9 169.7,136.3 170.8,135.9 171.1,135.5 172.0,135.2 173.2,135.3 174.1,135.4 175.2,134.5 175.9,134.5 M158.7,131.2 159.6,130.7 M166.3,145.1 167.6,143.8 167.7,143.4 168.2,142.3 168.2,141.6 169.0,140.0 169.5,139.5 168.8,137.5 169.0,136.9 M175.4,117.4 175.3,118.1 174.1,118.7 174.1,120.2 174.1,120.5 172.9,121.7 172.8,122.5 172.5,123.4 171.8,124.1 M215.3,83.4 215.3,84.4 213.9,85.1 214.0,86.4 212.7,87.1 213.1,87.8 213.2,89.0 212.2,90.1 212.2,91.1 M216.8,95.6 216.0,95.3 214.8,95.1 215.0,94.2 214.3,94.3 213.1,93.0 213.1,92.5 212.5,91.8 212.2,91.1 M216.8,95.6 217.7,95.3 M207.2,74.4 208.2,74.7 208.6,75.1 209.5,75.9 209.5,75.9 211.4,76.6 212.6,77.9 212.7,77.8 213.8,78.1 214.5,79.5 214.9,80.2 213.7,80.8 213.9,82.4 215.3,82.6 215.3,83.4 M207.2,74.4 208.7,74.8 209.3,73.6 210.7,72.8 212.2,72.2 213.6,71.3 213.4,70.2 215.4,69.6 216.0,69.3 M220.1,71.7 220.9,72.5 220.3,73.5 220.5,75.1 220.1,76.1 220.4,77.1 220.9,77.7 220.8,79.3 220.9,80.4 M205.7,74.2 205.0,75.7 205.0,77.0 204.5,77.9 203.0,79.1 202.5,79.4 200.7,80.1 199.7,81.6 200.0,82.9 M207.2,74.4 205.7,74.2 M209.1,91.3 209.2,90.5 208.5,90.4 207.6,89.9 207.0,88.8 206.2,89.1 205.6,88.0 205.0,88.2 204.5,87.6 202.7,86.1 202.4,85.6 201.0,83.6 200.0,82.9 M209.1,91.3 210.6,91.1 212.2,91.1 M217.2,102.0 216.7,101.3 216.9,100.8 216.5,99.3 216.4,98.5 216.2,98.3 215.8,96.8 216.6,96.2 216.8,95.6 M201.9,97.9 202.6,97.2 203.6,95.9 203.8,94.6 204.9,94.3 206.4,93.2 206.5,91.8 208.0,91.8 209.1,91.3 M196.0,51.8 196.7,52.4 196.0,53.5 196.9,54.1 196.5,55.3 197.2,56.1 196.9,56.1 196.8,57.7 197.3,58.2 M207.0,59.8 206.6,60.5 205.4,60.8 205.2,61.1 204.2,61.3 M197.3,58.2 198.2,58.6 199.4,59.0 199.3,59.8 200.8,59.7 201.7,59.6 202.8,60.4 203.5,60.7 204.2,61.3 M205.7,74.2 205.3,73.0 204.6,72.6 204.1,71.0 203.0,70.4 M204.2,61.3 203.7,62.7 204.2,63.6 203.8,65.3 203.8,65.5 203.9,66.8 203.4,67.7 203.0,69.6 203.0,70.4 M138.0,115.8 138.2,116.6 138.9,116.8 139.5,118.2 140.0,119.1 139.6,120.1 140.5,120.6 139.5,121.2 140.1,122.1 M138.0,115.8 139.0,114.7 139.6,113.2 139.6,112.0 140.9,110.8 M140.9,110.8 141.9,110.4 142.6,110.5 143.0,111.1 144.3,111.4 145.2,110.7 145.4,110.8 146.2,110.4 147.0,109.8 M147.1,122.9 147.7,121.6 148.4,121.3 149.7,120.5 150.3,119.7 151.3,118.9 151.6,117.6 153.0,116.5 152.7,115.6 M147.0,109.8 148.3,110.1 149.3,110.5 149.5,111.1 150.2,112.0 150.6,113.6 151.0,113.7 151.5,114.7 152.7,115.6 M127.8,113.3 129.4,114.1 130.4,114.8 131.8,115.8 132.6,115.9 133.9,115.8 135.5,116.5 137.0,116.2 138.0,115.8 M137.8,124.7 138.6,124.5 139.6,123.6 140.1,123.3 140.1,122.1 M135.3,100.8 135.8,102.5 136.6,103.1 137.9,103.9 139.0,104.8 139.9,106.5 138.9,108.5 140.1,109.5 140.9,110.8 M136.8,99.6 138.3,98.7 139.3,99.2 139.5,98.9 141.2,99.1 142.4,99.5 143.4,99.1 144.0,99.1 145.3,99.1 M145.3,99.1 146.0,100.1 148.0,100.4 148.0,101.7 149.0,103.1 M149.0,103.1 149.5,104.4 148.8,105.1 148.3,105.7 148.8,107.2 149.0,107.2 148.5,108.7 147.3,109.3 147.0,109.8 M151.4,130.5 150.9,129.7 149.5,128.8 149.5,127.8 148.4,127.4 148.3,125.9 147.8,124.6 147.9,123.5 147.1,122.9 M155.6,115.3 153.9,115.0 152.7,115.6 M159.2,101.8 157.3,102.2 156.3,102.3 155.3,101.7 154.3,101.7 153.5,102.8 151.6,102.9 150.6,103.1 149.0,103.1 M126.5,70.2 126.0,68.6 124.2,68.2 122.8,67.5 121.2,67.3 120.0,67.1 119.4,65.7 117.9,64.8 117.8,63.1 M121.4,79.7 121.1,79.4 119.6,79.0 118.9,78.7 118.4,77.8 117.6,78.2 116.2,77.7 115.7,77.5 115.1,78.3 114.1,78.1 114.0,76.7 113.2,77.0 111.8,76.3 112.2,75.6 111.3,75.4 110.5,74.5 110.3,73.4 M134.8,69.8 133.9,71.0 134.8,71.5 133.6,72.6 134.1,73.2 133.7,74.3 133.1,75.0 132.9,76.1 133.1,76.3 133.5,77.1 133.5,77.9 134.3,78.5 133.8,79.8 134.6,80.4 134.5,81.4 135.1,82.1 135.3,83.2 M122.1,81.7 121.1,81.2 121.4,79.7 M120.0,57.7 119.5,59.4 119.1,60.2 118.4,62.0 117.8,63.1 M108.5,74.4 109.4,73.8 110.3,73.4 M105.0,59.0 106.3,60.0 108.2,59.6 109.3,60.4 110.1,61.1 111.5,62.1 112.6,62.9 113.7,63.5 114.2,65.1 M140.0,85.1 141.2,85.4 142.2,85.7 144.3,85.9 144.8,87.3 146.8,87.9 147.1,88.7 147.9,89.5 149.2,91.0 M140.0,85.1 141.3,84.6 141.8,83.0 143.2,83.4 144.6,82.9 145.7,81.9 146.9,80.9 146.3,79.3 147.6,78.1 M147.6,78.1 149.1,77.8 150.1,77.5 151.8,78.0 153.2,78.4 153.6,79.5 155.5,79.3 157.0,79.6 157.6,80.8 M157.6,80.8 156.7,81.6 156.4,82.6 156.8,84.1 157.1,86.0 155.9,86.3 154.9,87.7 154.9,88.7 154.7,89.9 M154.7,89.9 153.4,90.9 152.0,90.7 150.2,91.0 149.2,91.0 M145.3,99.1 145.7,97.7 146.8,96.9 147.2,95.9 148.3,95.7 149.3,94.6 149.9,93.8 148.9,92.1 149.2,91.0 M138.7,85.2 140.0,85.1 M145.3,70.7 146.0,71.7 146.6,72.9 147.0,73.2 147.7,73.9 147.3,75.1 148.3,76.3 147.7,77.2 147.6,78.1 M158.6,80.1 158.2,79.0 158.0,78.3 158.7,77.3 158.6,76.5 158.8,75.9 158.7,74.8 159.5,74.1 159.8,73.0 159.6,72.4 159.3,71.2 159.0,70.8 158.3,69.7 158.5,68.9 158.0,68.0 157.5,67.4 157.1,66.5 M158.6,80.1 157.6,80.8 M156.1,66.3 157.1,66.5 M168.4,85.8 168.3,87.2 167.5,88.6 168.0,90.4 168.2,91.9 M162.0,80.3 161.9,81.0 163.1,82.6 163.3,83.3 164.3,83.9 165.2,85.1 166.3,85.7 167.4,85.6 168.4,85.8 M162.0,80.3 161.2,80.3 160.1,80.3 159.4,80.3 158.6,80.1 M177.4,25.3 177.8,25.5 178.6,25.9 180.1,26.0 180.9,25.7 181.6,25.6 182.3,25.3 182.9,26.6 184.1,26.6 M168.7,32.6 170.0,33.4 170.3,33.9 170.3,35.7 171.1,36.5 172.4,37.7 172.2,38.9 173.1,38.7 174.2,39.9 M181.3,38.8 180.0,39.7 179.3,40.3 177.8,40.9 176.3,40.5 M176.3,40.5 175.3,39.5 174.2,39.9 M186.3,23.3 185.8,23.7 184.7,24.8 184.6,26.0 184.1,26.6 M167.8,32.4 168.7,32.6 M167.5,47.2 167.7,45.9 167.5,44.3 168.8,42.8 169.5,42.0 171.2,42.4 172.1,41.6 173.4,40.6 174.2,39.9 M158.0,45.1 159.3,45.1 160.5,45.9 162.1,46.2 163.0,45.1 164.4,46.5 164.6,47.0 166.2,46.5 167.5,47.2 M195.1,33.7 193.2,34.3 192.1,33.9 191.6,32.6 189.4,31.9 188.4,31.1 187.0,31.1 185.6,30.6 185.2,29.4 M187.9,42.6 187.2,42.0 186.2,42.5 185.3,41.4 184.3,41.6 183.5,40.2 183.1,40.0 182.6,39.3 181.3,38.8 M182.4,54.3 181.6,53.5 180.8,52.9 180.5,52.6 179.4,52.5 M188.2,49.8 187.8,50.3 186.7,51.3 185.9,51.8 184.4,51.0 183.7,51.5 184.1,53.1 183.3,53.4 182.4,54.3 M167.5,47.2 168.0,48.6 167.1,49.3 167.7,50.5 168.6,51.2 169.0,51.8 169.2,53.1 169.3,53.7 170.0,54.6 M179.4,52.5 178.5,53.7 177.0,54.3 175.6,53.9 174.6,54.4 174.0,55.4 172.2,54.9 171.5,54.7 170.0,54.6 M170.0,54.6 169.6,55.2 M156.9,51.2 156.9,51.6 158.1,52.5 158.0,53.7 157.8,55.4 159.4,54.7 160.2,55.7 161.0,56.0 161.5,57.3 M157.1,66.5 158.2,65.6 158.8,65.5 M161.5,57.3 160.8,58.3 160.8,59.6 161.1,60.5 161.4,61.7 160.5,63.2 159.3,63.2 159.5,64.4 158.8,65.5 M179.9,92.2 180.1,91.4 180.7,91.0 180.8,89.7 181.1,89.4 181.5,88.8 181.2,87.3 182.0,86.7 182.2,86.1 M168.4,85.8 170.0,84.9 171.0,84.9 173.0,85.2 173.9,85.4 175.5,84.0 176.7,84.0 177.9,83.3 179.1,81.9 M179.1,81.9 180.1,82.8 180.4,83.5 181.5,84.9 182.2,86.1 M194.4,96.4 194.4,94.7 194.2,93.9 193.5,92.4 192.3,91.6 191.9,90.1 191.5,89.6 191.6,87.8 192.0,86.6 M182.2,86.1 183.7,86.4 184.8,86.1 185.9,86.2 187.4,86.2 188.6,86.6 189.8,86.4 190.9,86.0 192.0,86.6 M200.0,82.9 198.5,82.8 197.5,82.6 196.3,83.7 194.6,83.9 M192.0,86.6 192.4,85.8 193.1,85.2 193.8,84.3 194.6,83.9 M197.3,58.2 197.1,59.1 196.3,60.7 195.5,60.6 194.5,61.7 193.6,62.3 191.9,62.8 191.4,63.7 190.0,63.4 M191.2,70.5 191.5,69.6 191.4,68.4 190.9,67.5 190.7,66.5 189.8,66.2 189.7,64.8 189.7,63.8 190.0,63.4 M194.6,83.9 194.0,83.3 194.7,82.2 193.7,81.8 193.9,80.2 193.1,79.5 193.1,79.1 193.2,78.0 192.6,78.1 192.5,77.1 192.8,76.6 192.7,75.6 192.4,74.0 191.4,73.5 191.5,72.9 191.0,72.7 190.6,71.5 M191.2,70.5 190.6,71.5 M182.4,54.3 182.6,55.6 182.4,56.6 183.7,58.2 183.5,59.6 M190.0,63.4 189.2,62.8 187.9,62.3 187.9,62.0 187.5,60.9 186.5,60.9 185.6,60.0 184.3,60.3 183.5,59.6 M178.0,64.7 178.0,66.1 179.3,66.8 179.7,68.4 180.7,69.6 180.6,70.6 179.3,72.5 179.7,74.1 180.1,75.0 M178.8,77.0 180.1,76.4 180.1,75.0 M190.6,71.5 189.2,71.6 187.5,72.1 187.1,73.6 185.7,75.2 184.2,75.2 183.0,76.0 181.9,75.4 180.1,75.0 M183.5,59.6 183.3,60.0 182.3,61.2 181.3,61.8 180.8,62.6 180.2,63.1 180.1,63.8 178.9,64.4 178.0,64.7 M169.6,55.2 170.2,56.5 169.4,57.0 170.3,59.0 170.4,59.2 169.8,60.7 170.3,61.6 170.8,62.9 171.8,63.8 M158.8,65.5 160.1,65.3 161.2,66.3 162.1,65.8 163.2,65.3 165.0,65.6 165.5,66.6 167.1,66.4 168.0,67.3 M162.0,80.3 162.9,79.4 164.2,79.4 165.5,78.2 166.4,77.4 167.7,77.1 168.8,75.8 169.1,75.1 169.8,73.9 M179.1,81.9 178.4,80.5 178.8,79.5 179.2,78.7 178.8,77.0" stroke="#a8a8a8" stroke-width="0.6" fill="none"/>
<path d="M66.9,3.4 68.7,3.9 70.4,4.8 72,4.4 73.3,3.4 74.4,2.3 75.5,1.3 76.9,0.5 78.5,0.1 80.2,0.1 81.9,0.5 83.3,1.1 84.8,1.3 86.1,2 87.1,3.8 88.3,5.5 89,8.4 M87,4.8 89.1,6.3 89.6,8 89.9,9.8 89.2,11.3 88.4,12.7 87,13.4 M91.3,12.7 91.9,14.2 93.2,15.1 94.1,16.3 96.3,16.3 98.4,16.3 100,16.1 101.2,15 102.7,14.8 104.4,15.6 105.6,17 107.1,18.4 109.1,19.1 111,19.1 112.7,18.4 114.3,18.9 115.7,19.6 117,20.5 119.2,20.4 121.3,19.8 123.5,19.9 125.6,19.1 127.7,19 129.9,19.5 132.7,19.8 M129.9,48.4 132.5,49.3 135.1,50.2 136.4,51.1 137.8,51.5 139.3,51.7 140.7,52.4 142,53.3 143.4,53.9 144.9,54.4 146.2,55.2 147.5,56.1 149.2,55.9 150.3,57.1 151.8,57.4 153.8,57.5 155.4,58.6 157.3,59.1 159.6,60.2 161.1,59.6 162.4,58.8 164,58.5 165.5,58.3 166.9,57.8 168.4,57.4 170.1,57.2 171.8,57.2 173.3,56.2 175,56.1 M177,29.1 175.9,30.9 174.1,32 173.6,33.8 172.7,35.5 172.1,36.9 172,38.5 171.3,39.8 172.9,40.2 174.1,41.3 175.8,40.9 177,39.8 M183.6,12 185.2,12.3 186.8,11.5 188.4,12.2 190,12 191.6,11.3 193.2,11.6 194.8,11.7 196.4,11.5 198,12 199.6,11.4 201.2,11.6 202.9,11.9 204.5,11.8 206.1,12 207.7,11.5 209.3,11.5 211.2,11.4 213,10.6 215,10.5 215.9,8.8 216.4,7 215.7,4.1 214.5,2.8 212.9,2 M185,15.5 186.8,15.5 188.6,15.4 190.3,14.7 192.1,14.8 193.8,15.1 195.4,15.1 197.1,15 198.7,14.5 200.3,14.6 201.9,14 203.6,14.1 205.3,14.5 207,14.5 208.7,14 210.4,13.7 212.1,14.1 214,13.8 216,13.7 217.9,13.4 M217.9,13.4 219.1,14.8 220.7,15.8 222.1,17 223.5,18.1 223.8,20 225,21.3 226.1,22.5 226.2,24.2 227.4,25.4 227.9,27 228.9,28.3 229.5,30 230.7,31.3 232,32.1 233.1,33.2 233.9,34.5 235,35.5 236.3,36.5 237.9,37 239.1,38.4 240.6,39.5 242.1,40.5 244,41.2 246,41 247.9,41.3 249,43 250.7,44.1 250.8,46.3 250,48.4 249.9,50.6 249.3,52.7 249.7,54.6 250.4,56.4 250.7,58.4 M216.4,13.4 215.5,15.1 215,17 214.4,18.4 214,19.8 213.6,21.3 212.3,22.5 211.6,24.1 210.7,25.5 210.4,27 209.9,28.4 209.3,29.8 207.7,30.2 206.2,30.9 205.1,32.2 203.6,32.7 202,32.9 200.5,33.3 199.3,34.3 197.9,34.8 196.8,36.5 196.2,38.3 195,39.8 194.5,41.2 194,42.7 193.6,44.1 194.9,45.2 196.7,45.6 197.9,47 198.6,48.4 200,49.1 201.1,50.1 202.1,51.3 202.8,52.9 204,54.1 205,55.5 205.7,57 206.4,58.4 M175,29.1 176.6,28.1 177.6,26.4 179.3,25.5 181.2,25.1 183.1,24.5 185,24.1 186.6,23.8 187.9,22.7 189,21.3 188.1,19.5 M237.9,35.5 236.2,36.3 235.1,37.9 233.6,38.8 232.1,39.8 230.9,40.9 229.3,41.3 227.7,41.7 226.4,42.7 224.8,43 223.6,44.1 222.2,45 220.7,45.5 220,47.1 218.7,48.3 217.9,49.8 216.6,51 216.3,52.9 215,54.1 214.3,55.5 214.5,57.1 213.6,58.4 M232.1,0.5 233.4,2.1 234.3,3.7 235,5.5 236.3,6.8 238,7.5 239.4,8.6 240.7,9.8 242.1,10.5 243.7,10.5 244.9,11.7 246.4,12 248,12.1 249.3,12.9 250.7,13.4 252.8,12.8 255,12.7 M265,-0.2 264.1,1.1 262.8,1.9 261.8,3.1 260.7,4.1 259.6,5.6 258.4,7 257.1,8.4 258.9,9.1 260.7,9.8 261.9,11.1 262.9,12.5 263.6,14.1 264.2,15.6 265,17 M250.7,42.7 252.2,42.1 253.6,41.3 255,40.5 257.1,41.2 259.3,41.3 260.1,42.7 260.9,44.3 262.1,45.5 263.5,44.6 265,44.1 M175,55.5 176.8,55.8 178.6,55.9 180.4,55.9 182.1,55.5 184.1,55.8 186,56.3 187.9,57 189.3,58.4 M263,8.4 264,9.8 264.7,11.4 265.9,12.7 265.7,14.9 265.1,17 266.4,17.9 267.5,18.9 268.7,19.8 270.2,20.7 271.5,21.8 273,22.7 274.6,23 275.8,24.3 277.3,24.8 276.1,25.8 275.6,27.4 274.4,28.4 275.9,29.3 277.2,30.5 278.7,31.3 280.2,32.1 281.7,32.9 283,34.1 284.5,34.3 285.9,35.1 287.3,35.5 288.7,34.8 M263,45.5 264.1,44.1 266.1,43.7 267.5,42.6 268.7,41.3 270.1,42.2 271.6,42.7 272.8,43.7 274.4,44.2 275.9,44.8 276.5,43 277.3,41.3 279.4,41.4 281.6,41.3 283,40.8 284.6,40.8 285.9,39.8 288.1,39.8 290.1,39.1 291.6,39.4 292.9,40.5 294.4,40.5 295.4,41.9 296.6,43.1 298,44.1 M304.4,0.5 303.8,2.6 303.7,4.8 302.6,5.9 301.1,6.4 300.1,7.7 300.1,9.5 300.9,11.3 302.5,11.9 304.1,12.5 305.9,12.7 307.8,13 309.7,12.6 311.6,12.7 312.9,13.4 314.6,13.4 315.9,14.1 317.3,14.8 318.7,16 320.5,16.8 321.6,18.4 322.7,19.4 323.6,20.6 324.7,21.7 325.9,22.7 327.4,23.4 328.5,25 330.1,25.5 331.5,26.2 333.1,26.5 334.4,27.3 335.9,27.7 337.3,28.5 338.7,29.1 337.7,30.3 336.9,31.6 335.9,32.7 337,34.1 338.6,34.7 340.1,35.5 340.4,37 340.8,38.5 341.6,39.8 340.4,41 340.6,42.9 339.3,44.1 338.7,45.5 338,46.9 338,48.5 337.3,49.8 338.3,51.2 339.6,52.4 340.1,54.1 340.9,55.4 341.2,56.9 341.6,58.4 M340.1,35.5 341.8,35.9 343.1,36.7 344.2,38 345.9,38.4 347.8,38.7 349.7,38.9 351.6,39.1 M340.1,0.5 341.4,1.7 343,2 344.4,2.7 343.5,4 343.3,5.5 343,7 344.2,8.6 345.9,9.8 347.8,9.6 349.7,10.4 351.6,10.5 M344.4,2.7 346.3,2.6 347.9,1.5 349.9,2 351.6,1.3 M304.4,57 306.3,56.4 308.2,56.5 310.1,56.3 311.8,57.1 313,58.4 M95.6,83.3 97.8,83.1 99.9,82.5 101.8,82.3 103.6,81.4 105.6,81.1 107.3,80.7 109.1,80.8 110.9,81.1 112.7,80.8 114.6,81 116.6,81.1 118.4,81.8 119.8,82.6 121.3,83 122.6,83.8 124.1,84 126.2,83.9 128.1,83.4 129.9,82.5 131.6,81.9 133.5,81.8 135.2,80.7 137,80.4 138.4,79.7 139.8,79.2 141.4,79.2 142.7,78.3 144.4,77.7 145.4,76.3 146.9,75.5 148.4,74.7 150.3,74.3 152.2,74.1 154.1,74 156.1,74.3 158,74.8 159.9,75.4 161.5,76.1 162.7,77.4 164.1,78.3 164.8,79.9 166,81.1 167,82.5 167.1,84.5 167.9,86.4 168.4,88.3 169.7,89.1 170.4,90.6 171.4,91.7 172.7,92.5 173.3,94.3 173.9,96 173.8,97.9 174.1,99.7 173.6,101.6 173.1,103.5 172.7,105.4 171.8,107.2 171.6,109.2 171.3,111.1 171.5,112.6 172.7,113.8 172.7,115.4 M124.1,84 126,84.5 127.9,85.2 129.9,85.4 130.7,86.7 131.2,88.1 131.3,89.7 131.5,91.6 131.9,93.6 132.7,95.4 133.3,97.1 132.9,99 133.6,100.7 133.4,102.5 135,103.3 136.7,103.6 138.4,104 140.4,104 142.3,104.2 144.1,104.7 145.5,105.4 147,105.7 148.4,106.1 150.5,106.7 152.7,106.8 M158.4,59 159.6,60 160.7,61 161.3,62.5 162.7,63.3 164.1,64 165.6,64.3 167,64.9 168.4,65.4 170.5,66 172.7,66.1 174.2,65.6 175.8,65.1 177,64 M172.7,67.5 173.7,69.2 174.3,71 175.6,72.5 175.8,74.4 175.9,76.2 176.3,78 177,79.7 M152.7,115.4 154.3,114.6 155.8,113.6 157.3,112.6 158.4,111.1 159.9,110.5 161.3,109.7 162.8,109.2 164.1,108.3 M175,56.1 176.9,56.2 178.8,55.6 180.7,55.4 182.6,55.8 184.6,56 186.4,56.8 187.7,57.9 189,59 190.8,59.4 192.1,60.4 193.8,61.3 195.2,62.6 196.4,64 197.6,65 198.7,66 199.3,67.5 200.7,68.3 202,69.4 202.8,71 203.6,72.5 M175,64 176.9,63.6 178.8,64.1 180.7,64 182,65.2 183.7,65.6 185,66.8 186.4,67.6 187.2,68.9 188.2,70.1 189.3,71.1 189.9,72.8 191.6,73.7 192.1,75.4 193.5,77 194.3,79 M175,72.5 176.2,73.8 177.1,75.2 177.9,76.8 178.6,78.7 178.6,80.7 179.3,82.5 180.6,84 182.1,85.4 M205,55.4 206.1,56.7 207,58.1 207.8,59.6 208.7,60.9 209.3,62.5 209,64.4 209.5,66.4 209.3,68.3 208.5,69.7 207.9,71.1 M215,55.4 214.2,57.2 214.1,59.2 213.6,61.1 215.1,61.9 216.2,63.3 217.9,64 218.6,65.6 220.1,66.7 221,68.3 222.1,69.7 223.3,71 225,71.6 226.4,72.5 M249.3,55.4 248,56.6 246.7,57.7 245,58.3 243.7,59.4 242.8,60.9 242.1,62.5 241.3,64 240.2,65.4 239.3,66.8 238.6,68.3 238.1,69.8 236.7,70.9 236.4,72.5 236.8,74.5 237.6,76.3 237.9,78.3 239.8,77.8 241.7,78.2 243.6,78.3 245.3,77.8 247,78 248.7,77.6 250.4,77.2 252.1,76.8 254,76.3 255.9,76 257.9,76.1 259.7,76.3 261.5,76.6 263.1,77.5 265,77.5 M246.4,71.1 248.3,71.6 250.2,72.2 252.1,72.5 254,73.3 256,72.8 257.9,73.3 259.6,72.9 261.4,72.2 263.3,72.5 265,71.8 M230.7,81.8 229.1,81.8 228,80.5 226.6,79.9 225,79.7 223.2,79.7 221.5,80.8 219.7,81 217.9,81.1 216.4,81.4 215.1,82.6 213.6,82.7 212.1,83.3 210.7,83.8 209.1,83.8 207.8,84.6 206.3,84.8 205.1,85.8 203.6,86.1 202,86.8 200.8,88 199.1,88.4 197.9,89.7 197.8,91.7 196.6,93.4 196.4,95.4 196.4,97.2 195.7,99 195.3,100.8 195,102.5 195.3,104.4 194.7,106.4 195,108.3 195.4,110 195.5,111.8 196,113.6 195.7,115.4 M230.7,81.8 229.4,82.7 227.9,83.3 226.3,83.8 225.1,84.8 223.6,85.4 222,86.3 221,87.9 219.3,88.7 217.9,89.7 216.5,91.1 215,92.5 M196.4,104 198.2,104.6 200,104.7 201.8,104.7 203.6,104.7 205.2,105 206.5,106 207.9,106.8 209.1,105.5 209.8,103.8 211.1,102.6 212.1,101.1 213.2,100 213.9,98.6 215.7,98.2 216.4,96.8 218,96.6 219.2,95.6 220.7,95.4 222.9,95.5 225,95.4 226.5,95.9 227.9,96.8 228.7,98.2 229.3,99.7 231,99.4 232.7,98.9 234.4,98.7 236.1,98.4 237.9,98.3 239.3,97.9 240.6,97 242,96.4 243.7,96.3 244.9,95.4 246.6,95.5 247.9,94.6 249.3,94 250.8,93.6 252.1,92.7 253.7,92.6 254.8,91.3 256.4,91.1 258.1,90.5 259.8,90.1 261.6,90.4 263.3,90.2 265,89.7 M249.3,94 250.3,95.3 250.7,96.8 252.6,96.7 254.5,97.2 256.4,96.8 257.1,98.3 257.9,99.7 256.7,101 255.2,101.8 253.6,102.5 253.2,104.1 252.1,105.4 M227.9,104 229.4,104.1 230.7,104.8 232.3,105 233.4,106.3 235,106.3 236.4,106.8 237.9,107.8 239.2,108.9 240.7,109.7 242,111 243.4,112.1 245.1,112.8 246.4,114 247.9,114.3 249.3,114.8 250.7,115.4 M252.1,105.4 253.3,106.6 253.7,108.2 254.1,109.8 255,111.1 256.2,112.3 257.7,112.8 259.2,113.4 260.7,114 262.1,114.6 263.7,114.5 265,115.4 M263,70.4 264.5,70 266,69.5 267.2,68.3 268.9,68.4 270.2,67.5 271.6,66.8 272.9,66 274.3,65.3 275.8,64.8 277.3,64.5 278.8,64 280.1,63.3 281.8,62.7 283.7,62.8 285.3,61.8 287,61.5 288.7,61.1 290.4,60.5 292.2,61 293.8,59.9 295.6,60.4 297.3,59.7 298.7,59.3 300.2,58.8 301.6,58.3 302.9,57.6 304.6,57.7 305.9,56.8 307.5,57.7 309.4,57.9 311.2,58 313,58.3 314.9,58.4 316.5,59.6 318.4,59.7 320.1,60.4 321.4,61.5 323.1,61.6 324.4,62.6 325.9,63.3 327.5,64 329.4,63.8 331,64.6 332.8,64.6 334.4,65.4 336,65.4 337.4,66 338.6,67.3 340,67.7 341.5,67.9 343,68.3 344.7,68.2 346.4,68.7 348.1,68.9 349.9,68.7 351.6,69 M325.9,63.3 324.4,64.6 323,66.1 321.2,66.2 319.5,67.3 317.7,67.5 315.9,67.5 314.1,68.1 312.4,69 310.5,69.3 308.7,69.7 307.9,71.1 307.6,72.7 306.6,74 307.6,75.4 308.7,76.8 307.4,77.6 305.8,77.8 304.5,78.6 303,79 301.3,79.3 299.7,80.3 297.8,80.1 296.2,81 294.4,81.1 292.9,81.2 291.5,82 290.2,82.6 288.7,83.1 287.2,83.4 285.9,84 284.3,84.5 282.9,85.2 281.5,85.9 280.1,86.8 278.7,87.9 277,88.6 275.7,89.8 274.4,91.1 273.1,91.9 272.4,93.3 271.3,94.4 270.1,95.4 M263,76.8 264.4,77.4 265.7,78.2 267.3,78.3 268,79.7 268.7,81.1 267.7,82.5 266.9,84 265.9,85.4 264.1,86.5 263,88.3 M281.6,89.7 283.4,89.9 285.2,90 286.9,91 288.7,91.1 289.9,92.4 291.4,93.2 293,94 292.4,95.9 291.8,97.7 291.6,99.7 290.8,101.2 289.6,102.5 288.7,104 288.1,105.6 287.1,107 285.9,108.3 285.9,110.4 285.9,112.5 287.3,113.6 288.7,114.7 M307.3,87.5 309.1,87.8 310.9,87.8 312.6,88.8 314.4,89 316.1,89.3 317.9,89.3 319.6,89.6 321.3,90 323,90.4 324.8,90.4 326.5,90.5 328.1,91.7 329.8,92 331.6,91.8 333.3,92.3 334.9,92.8 336.7,92.6 338.4,93.3 340.1,93.3 341.8,92.9 343.4,93.3 345,93 346.7,93.3 348.3,92.3 350,92.9 351.6,92.5 M327.3,84.7 329.1,84.5 330.9,85.1 332.6,85.7 334.4,85.4 336.1,84.6 337.8,84.6 339.5,84.3 341.3,84.1 343,84 344.3,83.1 346,83.4 347.4,82.8 348.7,82 350.1,81.5 351.6,81.1 M327.3,55.4 328.7,56.1 330.3,56.1 331.7,56.7 332.9,58.1 334.4,58.3 336.4,58.5 338.2,59.2 340.1,59.7 341,58.4 341.5,57 341.6,55.4 M327.6,84.4 329.4,84.5 331.2,84.6 332.9,85.6 334.7,85.4 336.4,84.7 338.2,84.9 340.1,84.9 341.8,84.4 343.4,84.6 344.8,83.5 346.4,83.6 347.9,83.4 M0.4,158.1 1.8,157 3.3,156.3 4.7,155.3 6,154.1 6.8,152.6 7.6,151 7.7,148.8 7.6,146.7 9.1,145.3 10.4,143.8 13.3,144.5 M46.1,148.1 45.5,149.6 44.7,151 43.3,152.1 42,153.3 40.2,153.9 39,155.3 38.2,156.6 38.2,158.2 37.6,159.5 36.5,160.8 36.6,162.6 35.8,164 34.7,165.3 33.6,166.3 32.7,167.5 31.6,168.6 30.4,169.5 28.7,170.1 27.8,171.7 26.1,172.4 M57.6,146.7 59.2,147.4 60.6,148.4 61.9,149.5 63.8,149.7 65.7,149.3 67.6,149.5 69.5,149.4 71.1,150.3 72.9,150.5 74.7,151 76.2,151.3 77.6,152.1 78.9,152.8 80.4,153.3 81.9,153.8 83.6,154.3 85.4,154.6 87.1,155.2 89,155.3 M31.9,169.5 33.5,170 35.2,169.4 36.9,169.4 38.5,169.9 40.2,169.4 41.9,169.5 43.6,169.5 45.3,169.2 47,168.9 48.8,168.9 50.4,168.1 52.2,168.3 53.8,167.5 55.6,167.8 57.3,167.5 59,167.4 60.9,167.2 62.8,166.8 64.7,166.7 66.4,166.6 68.1,167.2 69.9,167.1 71.6,167 73.3,167.4 75,167.4 76.7,167.8 78.5,167.9 80.1,168.6 81.9,168.8 83.9,168.1 86.1,168.1 85,166.9 84.7,165.3 83.1,165.1 81.7,164.6 80.5,163.5 79,163.1 M114.1,118.1 114.9,119.4 116.2,120.4 117,121.7 118.5,122.3 119.7,123.3 121.1,124.1 122.7,124.5 124,125.7 125.5,126.4 127,127.2 128.4,128.1 129.8,128.8 131.2,129.3 132.6,130 134.1,130.3 136,131 138,130.8 139.9,131.7 140.9,132.8 141.6,134.2 142.7,135.3 143.4,136.6 144,138 144.1,139.5 145.5,140.7 146,142.4 147,143.8 147,145.8 147.5,147.8 148.4,149.5 149.7,150.8 150.2,152.5 151.3,153.8 149.9,156 147.7,156.4 145.6,156.7 144,158 142.7,159.5 141.4,161 139.9,162.4 138.2,162.7 136.8,163.4 135.6,164.5 134.5,166.3 132.7,167.4 131.1,168.7 129.9,170.3 128.6,171.3 127.2,172.1 125.6,172.4 M114.1,117.4 116.1,117.7 117.9,118.6 119.9,118.8 121.6,119.5 123.5,118.8 125.2,119.2 127,119.5 128.8,119.1 130.6,119.6 132.4,119.5 134.1,119.5 135.9,119.4 137.7,119.4 139.5,119.8 141.3,119.5 143.1,119.5 144.8,118.6 146.6,118.4 148.4,118.1 149.9,117.5 151.4,116.9 152.9,116.4 154.1,115.3 155.5,114.2 157.1,113.5 158.4,112.4 M139.9,131.7 141.3,132.4 142.6,133.4 144.3,133.5 145.7,134.3 147,135.3 148.6,134.6 150.5,135.1 152.1,134.2 153.9,134.1 155.6,133.8 157.2,133 159,132.8 160.6,132.1 162.4,132.2 164.1,131.7 165.4,130.7 167.1,130.4 168.3,129.3 169.7,128.6 171.3,128.1 173.2,127.6 175.1,127 177,126.7 M144.1,139.5 143.2,140.8 142.3,142 141.2,143.1 139.9,143.8 138.3,144 137.1,145.1 135.7,145.9 134.3,146.4 132.7,146.7 131.3,148.1 132.7,149.2 134.1,150.3 135.3,151.7 137,152.4 M87,154.5 88.5,154.8 89.7,156 91.3,156.1 92.7,156.7 94.2,157.3 95.4,158.4 97,158.7 98.4,159.5 100.1,160.3 101.3,161.7 102.6,162.9 104.1,163.8 105.5,164.7 107.1,165.1 108.2,166.4 109.9,166.7 111.1,168 112.4,169.2 114.2,169.9 115.6,171 116.9,172 118.4,172.4 M174.1,112.4 175.4,114 177,115.3 M196.4,112.4 197.1,114.3 197.3,116.2 197.1,118.1 196.7,119.6 196.1,121 196,122.6 195,123.8 194.5,125.7 194.1,127.7 193.6,129.5 194.5,131.3 195,133.1 194,134.3 192.7,135.2 192.1,136.7 191.4,138.1 189.9,138.8 189.3,140.3 M195,133.1 196.5,133.5 197.8,134.4 199.4,134.4 200.7,135.3 202.4,136.3 204.3,136.3 205.9,137.3 207.9,137.4 209.1,136 210.7,134.9 212.1,133.8 212.8,132 212.8,129.9 213.6,128.1 214.9,127 216.5,126.4 217.9,125.3 219.5,124.7 220.6,123.2 222.1,122.4 222.6,120.5 223.6,118.8 M175,115.3 176.5,116.1 177.6,117.6 179.3,118.1 180.3,119.4 180.6,121 181.5,122.3 182.1,123.8 M175,126.7 176.4,127.5 177.9,128.1 176.6,129.7 175,131 M227.9,124.5 229.7,124.5 231.5,124.6 233.2,124.4 235,123.8 236.5,122.5 237.9,121 238.3,119.5 238.9,118.1 239.3,116.7 240.4,115 242.1,113.8 243.9,114.5 245.7,114.7 247.5,114.9 249.3,115.3 251.1,115.6 252.9,115.5 254.7,115.7 256.4,116 257.7,115 259.3,114.6 260.7,113.8 262.1,114.4 263.6,114.8 265,115.3 M263,114.5 264.7,114.3 266.4,115.3 268.2,114.7 269.8,115.2 271.6,115.3 273.4,115.9 275.4,116 277.3,116 278.8,116.2 280.1,117.2 281.6,117.5 283,118.1 284.1,116.3 285.9,115.3 285,113.9 284.4,112.4 M285.9,115.3 287.6,115.4 289.3,116 291,115.9 292.7,116.5 294.4,116.7 296.3,117.4 298.3,117.3 300.1,118.1 302,117.5 304,117.8 305.9,117.4 307.8,117.6 309.7,117.5 311.6,118.1 M293,112.4 294.1,113.7 294.4,115.3 296.3,115.9 298.2,115.8 300.1,116 302,115.4 303.9,114.7 305.9,114.5 307.6,113.9 308.7,112.4 M304.4,136 305.2,137.3 306.3,138.4 307.3,139.5 307.8,141.2 308.8,142.7 310.1,143.8 310.4,145.5 311.6,146.7 310.7,148.2 309.4,149.4 308.7,151 307.9,152.3 307.3,153.8 308.6,154.9 309.9,156.1 311.6,156.7 312.7,157.9 313,159.5 312.3,161.3 311.6,163.1 310.2,164.6 308.7,166 M0.4,175.8 2.4,175.7 4.2,175.1 6.1,175.1 7.9,175.8 9.7,175.2 11.5,175.5 13.3,175.8 15.2,175.7 17.1,176.2 19,176.5 20.6,175.8 21.6,174.3 23.3,173.7 24.5,172.5 26.2,171.9 27.6,170.8 29,169.4 M0.4,200.8 1.9,200.4 3.4,200 4.6,199 6.1,198.7 8,198.6 9.8,198.2 11.6,197.9 13.3,197.3 15,196.5 16.9,196.5 18.5,195.7 20.4,195.8 22.3,196 24,195.9 25.8,195.7 27.6,195.1 29.5,194.6 31.4,195 33.3,195.1 35,195.3 36.7,195.4 38.5,195.2 40.1,196 41.9,195.8 43.6,195.3 45.4,195.1 47.1,194.4 49,194.4 50.8,194.6 52.6,194.4 54.4,194.5 56.1,195.1 57.9,194.8 59.7,194.2 61.6,194.3 63.3,193.7 64.9,193.1 66.6,192.9 68.2,192.2 69.9,192 71.6,191.9 73.3,191.5 74.7,190.7 76.1,189.7 77.8,189.2 79,188 79.8,186.6 81.4,186.1 82,184.5 83.3,183.7 84.9,183.4 86.2,182.3 87.5,181.5 89,180.8 M7.6,226.5 7.7,224.8 7.9,223 8,221.2 7.6,219.4 8.5,217.9 9.1,216.3 10.4,215.1 11.1,213.5 12.6,212.4 13.3,210.8 14.8,210.3 16.2,209.6 17.6,208.7 19.2,208.2 20.9,208.5 22.5,207.9 24.2,207.8 25.9,207.9 27.6,208 29.3,208.3 31,207.8 32.7,207.9 34.4,206.9 36.1,207.3 38,206.7 39.9,205.9 41.9,205.8 43.2,204.9 44.5,204.1 46.3,204.1 47.6,203 49.1,203.5 50.4,204.4 51.8,205.3 53.3,205.8 54.5,206.9 55.9,207.7 57.5,208 59,208.7 60.9,208.2 62.9,208.1 64.7,207.3 66.1,206.7 67.5,206.1 69.1,206.1 70.4,205.1 71.8,204.8 73.3,204.4 74.7,203.9 76.1,203.4 77.5,202.8 79,202.4 80.4,202 81.9,201.5 82.5,200.1 84,199.4 84.7,198 84.6,195.8 85.4,193.7 86.9,191.5 M39,228 40.4,227.4 41.9,226.9 43.2,226.2 44.6,225.4 46.1,225.1 47.8,224.2 49.7,223.9 51.4,223.3 53.3,223 55,222.8 56.7,222.4 58.4,222.8 60.1,222.4 61.9,222.3 63.7,222.1 65.3,222.7 66.9,223.6 68.8,222.9 70.4,223.7 72.2,223.4 74.1,223.4 75.8,222.5 77.6,222.3 79.1,221.3 80.4,220.1 M114.1,169.4 115.3,171.1 117,172.3 118.9,172.8 120.8,172.9 122.7,173 124.5,172.1 126.6,172.3 128.4,171.5 129.9,173.7 131.5,174 132.7,175.1 132.1,176.5 131.7,178 131.3,179.4 132.7,181.5 135.6,182.3 M87,180.8 89,180.8 90.8,180 92.7,179.4 94.3,179.4 95.4,180.8 97,180.8 97.5,182.4 98.4,183.7" stroke="#2a2aff" stroke-width="0.9" fill="none"/>
<path d="M0.7,13.4 2,12.6 3.4,12 4.7,11.3 6.3,11.3 7.6,10.5 9,10.1 10.4,9.8 11.9,9.5 13.2,8.7 14.7,8.7 16.1,8.4 17.6,8.1 19,8 20.5,7.9 21.9,7.3 23.6,6.5 25.4,6.7 26.4,5.3 28.3,3.4 29.3,1.5 29.7,0.1 M61.9,0.5 62.6,2.7 61.1,4.8 60.2,6.1 59,7 57.8,8.1 56,8.1 54.7,9.1 53.2,9.5 52,10.7 50.2,10.3 48.8,10.9 47.6,12 45.9,12 44.2,12.3 42.6,12.7 41.9,14.1 43.5,14.5 44.7,15.5 46.4,15.8 47.6,17 49,16.6 50.4,16.3 51.8,15.5 53.2,15.4 54.7,15.5 56.2,15.5 57.7,15.5 59,16.3 60.4,16.9 61.9,17.7 63.3,18.1 64.6,19 66.1,19.1 67.6,19.6 69,20.2 70.4,20.5 71.9,20.5 73.3,20.7 74.7,20.5 76.1,20 77.5,19.4 79,19.1 80.7,18.6 82.2,17.7 83.3,16.3 85.3,15.5 86.9,14.1 89,12.7 M91.6,12.7 90.6,14.3 90.2,16.1 89.3,17.7 88.3,18.8 87.1,19.7 86.1,20.7 84.7,21.3 83.2,21.4 81.9,22.2 80.3,22.2 79,23.1 77.6,23.4 76.1,23.1 74.7,23.4 73.4,24.5 71.9,24.1 70.4,24.3 69.1,23.3 67.6,23.6 66.1,23.4 64.7,22.9 63.3,23.5 61.9,23.9 60.4,23.4 58.9,24 57.6,24.8 56.1,27 55,28 54.4,29.5 53.3,30.5 52.1,31.7 50.5,32.1 49,32.7 47.3,33.2 46,34.4 44.7,35.5 43.5,36.6 42,37.2 40.4,37.7 38.9,39.1 36.9,39.8 37.6,41.3 39,40.8 40.4,41.6 41.9,41.3 43.4,41.3 44.7,42 46.2,41 47.6,39.8 49,39.1 50.3,38.1 52,37.9 53.3,37 54.6,36.3 56.2,36.6 57.5,35.7 59,35.8 60.4,36.1 61.9,36.2 63.3,36.7 64.7,37.3 66,38.3 67.6,38.4 68.9,37.2 69.7,35.5 69.9,34.1 70.4,32.7 72,32.7 73.2,31.6 74.7,31.5 76.1,31.3 77.6,31.6 79,31.3 80.4,31 82,30.9 83.2,32.2 84.7,32 86.2,32 87.6,32.7 89,32 M149.1,1.3 148.9,2.8 149.6,4.1 148.6,5.4 148.4,7 147.3,8.3 146.3,9.8 144.5,11 142.7,12 141.4,12.8 139.9,12.7 138.7,14.2 137,14.8 135.3,15.1 134.1,16.3 132.9,17.6 131.3,18.4 129.9,19.8 131.2,20.3 132.8,20 134.1,20.5 135.6,20.9 137,20.6 138.4,20.3 139.9,20.5 141.3,20.3 142.7,21.1 144.1,21 144.9,22.7 143.3,24.2 141.3,24.8 140,25.8 138.4,26.2 137,27 135.5,26.9 134.1,27.4 132.8,28.1 131.2,27.7 129.9,28.4 128.5,28.9 127.1,29.2 125.6,29.1 124.1,29 122.7,29.1 121.3,29.6 119.9,29.5 118.4,29.3 117,29 115.6,29.5 114.1,29.1 112.7,29.3 111.3,28.7 109.9,28.6 108.4,29.1 107,29.2 105.5,29.4 104.1,29.8 102.7,29.4 101.3,29.1 100,30.2 98.4,30.5 97.1,31.2 95.6,31.4 94.1,30.6 92.7,31.3 91.2,31.4 89.9,32 88.4,31.5 87,32 M177,19.1 175.7,19.9 174.1,19.4 172.7,19.8 171.3,20.6 169.7,21 168.4,22 167.1,22.7 165.4,22.5 164.3,24 162.7,24.1 161.3,24.4 159.8,24.6 158.3,24.8 157,25.5 155.5,25.6 154.1,26 152.6,26.3 151.3,27 149.3,27.3 147.7,28.4 147.1,29.9 146.3,31.3 146.2,32.7 146.1,34.2 146.7,35.5 146.1,36.9 146.3,38.4 144.1,39.8 142.7,40.4 141.2,40.5 139.9,41.3 138.3,41.4 137,42.3 135.5,42.7 134.1,43.4 132.8,44.1 131.3,44.4 129.8,44.9 128.4,45.5 126.9,47 124.9,47.7 124.1,49.1 125.6,49.3 127,49.1 128.6,49.3 129.9,48.4 M85,62 87,62.6 89,62.8 90.6,63 92.2,63.4 93.7,63.5 95,62.5 96.5,62.5 97.9,62 98.1,60.5 98.8,59.1 99.3,57.7 99.3,56.2 99,54.8 98.7,53.4 97.9,52.1 97.1,50.9 96.5,49.5 95.5,48.4 95,47 96.4,46.5 97.8,46.7 99.3,46.9 100.7,46.4 102.3,47.5 104.1,47.8 104.1,49.3 104.1,50.8 104.9,52.1 106.3,51.9 107.7,51.7 109.2,52 110.6,51.9 112,52.1 113.6,51.6 115.3,51.7 117,51.6 118.6,51.5 120.1,51.1 121.7,50.7 123.3,50.7 124.9,50.3 126.3,49.7 127.5,48.5 128.9,47.8 M192.9,0.5 193,2.4 192.1,4.1 191.6,5.8 189.9,6.7 189.3,8.4 188.2,10 186.3,10.6 185,12 183.5,13 182.1,14.1 180.8,15.4 179.3,16.3 177.7,17.1 176.4,18.4 175,19.1 M198.6,2 200.1,1 201.8,0.6 203.6,0.5 205,0.8 206.5,0.6 207.8,1.8 209.3,1.4 210.7,2 211.4,4.1 210.2,5.2 208.8,6 207.1,6.1 205.7,7 204.1,6.9 202.5,6.5 200.9,6.3 199.3,6.3 199.4,4.8 199.3,3.3 198.6,2 M175.7,18.4 177.2,18.2 178.6,17.3 180.1,17.3 181.6,17.4 183.1,17.3 184.6,17.8 186.8,19.5 185.2,20.3 183.4,20.1 181.8,20.1 180.1,19.9 178.4,20.5 176.8,20.1 175.7,18.4 M179,15.6 180.4,14.8 181.9,14.4 183.4,14 185,14.8 186.8,15.1 185.7,17.3 184.2,17.1 182.7,16.8 181.2,16.7 179,15.6 M183.4,19.5 185.2,19.2 186.8,18.4 187.5,19.8 187.9,21.2 186.4,21.1 185.1,21.7 183.4,19.5 M89,61.8 87.6,62.3 86,62.3 84.7,63.3 83.4,62.6 81.9,62.5 80.5,61.5 78.8,61 77.6,59.7 76.2,59.1 74.7,58.8 73.3,58.3 72,59 70.6,59.7 69,59.7 67.6,60.4 66.1,61.1 64.7,61.5 63.3,61.2 61.9,61.1 60.4,61.1 59,61.5 57.6,61.9 56.1,61.8 54.7,62.2 53.3,62.9 51.9,63.3 50.4,65.4 51.3,66.7 52.6,67.5 54.4,66.9 56.1,66.1 54.7,68.3 53.3,68.9 52.6,70.4 53.9,71.2 55.4,71.1 56.1,73.3 57.5,74.2 59,74.7 60.4,74.4 61.9,74.3 63.3,74.7 64.7,75.3 66.1,75.4 67.6,75.4 69,75.4 70.5,75.7 71.9,76.1 73.3,76.8 74.6,77.7 76.1,78.3 77.6,78.3 79,78.4 80.4,78.3 81.8,78.9 83.2,79.5 84.7,79.7 85.7,81 86.1,82.5 87.6,82.6 89,83.3 M87,83.3 88.5,83 89.9,82.5 91.3,82.6 92.7,83 94.1,83.3 95.6,83.3 M89.2,83.6 89.1,85.3 88.3,86.9 89.8,87.2 91.1,87.9 90.2,89.8 91.3,91.3 92.5,92.6 94,93.6 95.8,94 97.4,94.8 98.8,96 99.9,97.1 101.3,97.7 102.6,98.4 103.8,99.6 105.4,100.3 105.3,101.8 104.5,103.1 105,104.5 105.4,106 107,107.2 108.3,108.8 109.5,110.5 111.1,111.7 111.9,112.9 112.2,114.3 113,115.5 115,117.4 M105.9,106.9 105.4,108.8 104.8,110.4 105.4,112.2 105,113.8 105,115.5 104.5,117.1 104,118.8 104.3,120.5 104,122.2 103.9,123.6 104,125.1 102.9,126.4 103.5,127.9 103.3,129.4 102.6,130.7 102.3,132.2 102.1,133.7 101.6,135.2 101.7,136.7 100.9,138.1 101.4,139.8 100.7,141.2 99.2,142.3 97.5,142.9 M101.6,97.4 103.8,98.4 104.4,100.4 102.5,100 101.6,97.4 M101.6,101.4 102.8,102.5 104.2,103.4 104.9,104.7 104.8,106.2 103,105 102.1,103.3 101.6,101.4 M307.3,112.9 308.4,111.4 309.3,109.8 310.8,109 312.4,108.8 314.4,108.2 316.4,107.8 318.2,107.6 319.9,107.1 321.5,106.3 323.1,106.4 324.6,105.8 326.2,106 327.6,106.8 329.7,106.3 330.7,107.8 329.7,108.8 328.6,109.8 327.6,111.9 328.9,113.2 329.7,114.9 330.6,116.5 331.7,118 332.7,119.2 333.7,120.5 335.7,119 336.8,117 337.4,115.6 338.8,114.9 338.8,112.9 340.3,112.5 341.8,111.9 343.2,113.1 344.9,113.9 345.8,115.5 346.9,117 347.2,118.5 348.6,119.5 349,121 350,122.2 350.8,123.5 351,125.1 351.4,126.6 351.8,128.1 352.2,129.7 352.5,131.2 M338.8,113.9 340.2,113.2 341.8,112.9 342.6,114.1 344.2,114.6 344.9,115.9 344,117.3 343.9,119 342.4,118.4 340.8,118 340.2,116.6 339.8,115.1 338.8,113.9 M343.9,116.9 345.3,116.1 346.9,115.9 347.9,117.1 348.5,118.5 349,120 349.1,121.5 348.5,122.8 347.9,124.1 347,123 345.9,122 345.3,120.3 344.3,118.7 343.9,116.9 M344.9,123 346.2,123.5 347.8,123.3 349,124.1 349.4,125.6 350.7,126.6 351,128.1 350.9,129.5 350.7,130.9 350,132.2 349.1,131 348.2,129.9 346.9,129.1 346.7,127.5 345.4,126.2 345.3,124.6 344.9,123 M0.4,136.7 1.8,136.2 3.3,136.5 4.7,136.3 6.1,136 7.4,136.9 8.9,137.3 10.4,137.4 11.9,137.5 13.3,138.3 14.8,138 16.1,138.8 17.6,138.7 19,138.7 20.4,138.3 21.9,138.7 23.3,138.6 24.7,138.8 26.1,138.7 27.6,138.3 29,138.1 30.4,138.2 31.9,138.2 33.3,138.1 34.8,137.9 36.1,138.7 37.6,138.4 39,138.8 40.5,138.7 41.9,139.2 43.3,139.6 44.8,139.6 46.1,140.3 47.6,140.6 49,140.9 50.4,140.9 51.8,141.3 53.4,140.8 54.7,141.4 56.1,141.7 57.5,141.3 58.9,140.7 60.4,140.9 61.8,140.3 63.3,140.5 64.7,140.3 66.1,140.5 67.6,140.6 69,140.6 70.4,141 71.9,141 73.4,141 74.7,141.7 76.1,142.5 77.6,142.4 79,142.5 80.4,142.2 81.9,142.7 83.3,142.2 84.7,142.5 86.1,142.7 87.6,143.1 89,142.7 M111.3,112.4 111.8,113.9 112.7,115.3 114,116.1 114.9,117.4 M177,142.4 175.7,143.2 174.3,143.8 172.7,143.8 171.5,145.5 169.9,146.7 170.1,148.2 170,149.6 169.5,151 169.1,152.4 169.6,154 170.8,155.2 171.3,156.7 172.7,158.1 171.3,159.5 169.9,161 170.2,162.5 169.7,163.9 169.1,165.3 167.6,165.5 166.9,167.2 165.4,167.4 164.1,168.1 162.6,168.5 161.1,169.3 159.7,170 158.4,171 157,171.8 155.6,172.4 M175,143.1 176.2,142.1 177.9,142.2 179.3,141.5 180.7,141 182.2,140.3 183.6,139.6 185,138.8 186.3,139.8 188,139.4 189.3,140.3 190.7,140.7 192,141.7 193.6,141.7 195,141.7 196.4,141 197.9,141 199.3,140.9 200.7,140.3 201.8,142.1 203.6,143.1 205,143.7 206.2,144.9 208,144.9 209.3,146 210.6,146.7 212.1,146.3 213.6,146.2 215,146.7 216.4,147.1 217.9,146.8 219.3,147.2 220.7,146.7 221.9,145.7 222.9,144.5 223.6,143.1 225,142.2 226.7,141.7 227.9,140.3 229.1,139.1 230.9,139.2 232.2,138.3 233.6,137.4 234.9,136.6 236.5,136.6 237.8,135.7 239.3,135.3 240.7,134.9 242.2,134.9 243.5,133.9 245,133.8 245.9,132.6 247.3,131.8 247.9,130.3 249.3,129.5 250.7,128.6 252.3,127.9 253.6,126.7 255,126.4 256.4,125.9 257.9,126 259.2,126.7 260.6,127.2 262.1,127.5 263.6,127.7 265,128.1 M264.7,147.2 266.1,148.1 265.9,150.1 266.6,151.9 266.8,153.5 267.6,154.8 268.2,156.7 268,158.6 267.9,160 267.6,161.4 267.5,163 266.6,164.3 266.1,166 264.7,167.2 264.2,169.2 263.3,171 261.9,171.9 260,171 258.7,170.1 257.1,170 255.2,168.1 256.1,166.2 254.2,165.3 255.2,163.4 253.3,161.4 254.2,159.5 252.3,157.6 253.6,156.4 254.2,154.8 255.2,153.6 256.5,152.9 258,152.4 259.9,151.8 261.9,151.4 264.2,151 263.8,149.1 264.7,147.2 M263,126.7 264.3,127.6 265.7,128.3 267.3,128.8 268.8,129.4 270.2,130.1 271.6,131 273,131.6 274.6,132.1 275.8,133.2 277.3,133.8 278.3,135.2 278.9,136.9 280.1,138.1 280.7,139.5 281.1,141 281.6,142.4 281.8,143.8 281.6,145.3 282.3,146.7 283.6,147.5 284.5,148.8 285.9,149.5 287.4,150.3 288.7,151.5 290.1,152.4 291.7,153.2 292.8,154.6 294.4,155.3 296,156 297.1,157.5 298.7,158.1 300,159.5 301.6,160.5 303,161.7 304.1,163.2 305.9,164 307.3,165.3 308.2,166.5 309.3,167.5 310.5,168.4 311.6,169.5 313.2,169.6 314.5,170.5 315.9,170.9 317.3,171.7 M307.3,112.4 308.3,113.8 308.8,115.5 310.1,116.7 309.9,118.2 309,119.5 308.7,121 308.9,122.4 309.7,123.8 309.9,125.2 310.1,126.7 311.8,127.3 312.8,129 314.4,129.5 316,130 317.3,130.9 318.8,131.5 320.1,132.4 321.4,133.6 322.8,134.5 324.4,135.2 325.9,136 327.3,137.2 329,138 330.1,139.5 330.7,141.2 332.4,142.1 333,143.8 333.6,145.2 334.1,146.6 334.4,148.1 335.2,149.7 336.2,151.1 337.3,152.4 338.5,153.1 339.3,154.5 340.4,155.4 342.2,155.4 343,156.7 344.1,157.7 345.3,158.4 346.5,159.1 347.6,160.1 348.7,161 350.1,161.5 351.3,162.4 M159.9,169.4 158.4,170.2 157.3,171.6 155.4,171.9 154.1,173 152.7,173.3 151.2,173.3 149.8,173.3 148.3,173.7 147,174.4 145.7,175.2 144.1,174.8 142.7,175.5 141.3,175.8 139.8,176 138.5,176.9 137,177.3 136.1,178.5 135.1,179.7 134.1,180.8 133,182.6 131.3,183.7 130,185.3 128.4,186.5 127.2,187.4 126.6,189 125.5,190.1 124.1,190.8 123,191.8 122.3,193 121.5,194.2 121.1,195.7 119.9,196.5 119.5,198.2 118.6,199.5 117.7,200.8 117.8,202.4 118.7,203.7 118.9,205.3 119.9,206.5 121.1,207.5 121.8,208.9 122.7,210.1 124.5,210.9 126.3,211.5 124.3,212.3 122.7,213.7 121.5,214.8 119.7,214.7 118.4,215.9 117,216.5 115.9,218.3 114.1,219.4 113.5,220.9 112.8,222.3 112,223.7 111.3,225.1 110.6,226.4 110.6,228 M158.4,199.4 159.9,198.5 161.4,197.8 162.6,196.6 164.1,195.8 165.7,195.6 166.9,194.5 168.4,194.4 169.9,194.7 171.3,194.4 172.7,196.5 174.3,196.9 175.6,198 174.8,199.4 174.1,200.8 172.8,201.4 171.3,201.5 169.9,201.5 168.7,202.9 167,203.7 165.5,203.5 164.1,203 162.8,201.8 161.3,200.8 159.9,200.1 158.4,199.4 M141.3,208.7 142.3,207.5 143.4,206.5 145.2,207 147,207.3 145.6,209.4 143.4,210.1 141.3,208.7 M262.8,172.9 260.9,173.8 259.5,174.5 258.6,175.8 257.2,176.6 256.1,177.6 254.5,178.4 252.7,178.7 251.4,180 249.9,179.5 248.5,178.6 248.7,177.1 248.5,175.7 246.6,177.6 246.7,179.2 246.5,180.8 246.1,182.4 246.7,183.8 247.6,185 248.5,186.2 249.3,188 249.5,190 250.6,191.7 250.7,193.7 M250.7,193.7 250.9,195.2 251.8,196.5 252.1,198 251.6,199.3 251.5,200.8 250.9,202.2 250.7,203.7 249.9,205.1 249.3,206.5 250.1,207.9 251.4,208.8 252.9,209.4 254.5,208.9 256.2,208.4 257.9,208 259.1,206.3 260.7,205.1 262.2,205.2 263.5,204.2 265,204.4 M180.7,192.3 182.1,191.8 183.6,192.2 185,191.5 187,192.2 188.6,193.7 187.1,195.8 185.4,194.9 183.6,194.4 182.2,193.3 180.7,192.3 M263,172.3 264.4,173.4 265.9,174.4 267,175.5 268.1,176.5 268.7,178 269,179.6 270.1,180.8 270.1,182.3 270.3,183.7 270.9,185.1 270.8,186.7 269.6,187.9 269.4,189.4 269.6,190.9 269.4,192.3 268.9,193.7 268.7,195.1 268.6,196.5 269.1,198 268.4,199.4 268.7,200.8 268.4,202.2 267.8,203.6 268,205.1 M313,169.4 314.2,170.5 315.8,171 317.3,171.5 318.8,172.4 319.9,173.9 321.6,174.4 322.9,175.1 324.5,175.1 325.9,175.8 327.2,176.7 328.6,177 330.1,177.3 331.7,178 333.2,178.9 334.4,180.1 336.2,180.8 337.3,182.3 338.7,182.8 340.2,183 341.6,183.7 343.1,184.2 344.6,184.9 345.9,185.8 347.5,186.7 348.7,188.2 350.1,189.4 M311.6,228 312.1,226.4 312.8,225 313.5,223.6 314.4,222.3 315.9,222.3 317.3,222.7 318.7,221.9 320.1,222.3 321.5,222.8 323,222.9 324.4,222.8 325.9,222.9 327.3,223 328.7,223.4 330.1,223.3 331.6,223.6 333,224 334.4,223.7 336,223.4 337.2,222.4 338.5,221.6 340.1,221.5 341.7,221.5 343,220.4 344.4,220.1 345.9,220.2 347.2,219.3 348.7,219.4 350,217.9 351.3,216.5" stroke="#111" stroke-width="0.8" fill="none"/>
<path d="M180.5,15.9 184,17.4 M216.4,96.8 220,95.4 223.6,94.7 227.1,96.1 M258.6,76.1 261.4,75.4 265,77.5 M252.9,101.1 255,100.4 252.1,104.7 M286.6,104.7 283.7,107.5 285.9,109.7 M104.1,121 106.3,121.7 104.9,122.7 M33.3,195.1 38.3,194.8 43.3,195.8 M44.7,203.7 47.6,202 50.4,203.4" stroke="#222" stroke-width="1.6" fill="none"/>
<path d="M26.5,42.7h0.8 M84.3,49.8h0.8 M89.5,45.5h0.8 M89.5,53.4h0.8 M310.5,5.3h0.8 M318.3,5.5h0.8 M321.2,4.4h0.8 M329,4.8h0.8 M336.9,10.5h0.8 M339.7,17h0.8 M45.5,64.7h0.8 M74.3,81.8h0.8 M87.2,91.1h0.8 M338.4,122h0.8 M339.4,124.1h0.8 M344.5,127.1h0.8 M341.4,127.1h0.8 M271.2,146.7h0.8 M276.9,150.3h0.8 M274.7,153.8h0.8 M302.6,153.8h0.8 M288.3,156.7h0.8 M278.3,158.1h0.8 M291.2,156h0.8 M339.7,121h0.8 M345.5,126.7h0.8 M145.2,212.5h0.8 M166.6,205.8h0.8 M317.6,178.7h0.8 M325.5,180.1h0.8 M321.2,212.3h0.8 M342.6,215.1h0.8 M348.3,216.5h0.8" stroke="#222" stroke-width="1.3" fill="none"/></g></defs>
<text x="11.50" y="23.90" font-size="13.00" textLength="19.02" lengthAdjust="spacingAndGlyphs" stroke="#000" stroke-width="0.25">IFS</text>
<text x="34.30" y="23.90" font-size="13.00" textLength="4.18" lengthAdjust="spacingAndGlyphs" stroke="#000" stroke-width="0.25">-</text>
<text x="43.80" y="23.90" font-size="13.00" textLength="79.21" lengthAdjust="spacingAndGlyphs" stroke="#000" stroke-width="0.25">Probabilities</text>
<text x="128.10" y="23.90" font-size="13.00" textLength="28.62" lengthAdjust="spacingAndGlyphs" stroke="#000" stroke-width="0.25">total</text>
<text x="161.70" y="23.90" font-size="13.00" textLength="109.30" lengthAdjust="spacingAndGlyphs" stroke="#000" stroke-width="0.25">precipitation/24h</text>
<text x="276.70" y="23.90" font-size="13.00" textLength="8.29" lengthAdjust="spacingAndGlyphs" stroke="#000" stroke-width="0.25">&gt;</text>
<text x="291.90" y="23.90" font-size="13.00" textLength="14.01" lengthAdjust="spacingAndGlyphs" stroke="#000" stroke-width="0.25">10</text>
<text x="312.20" y="23.90" font-size="13.00" textLength="28.82" lengthAdjust="spacingAndGlyphs" stroke="#000" stroke-width="0.25">mm,</text>
<text x="345.70" y="23.90" font-size="13.00" textLength="23.80" lengthAdjust="spacingAndGlyphs" stroke="#000" stroke-width="0.25">Init:</text>
<text x="373.90" y="23.90" font-size="13.00" textLength="62.99" lengthAdjust="spacingAndGlyphs" stroke="#000" stroke-width="0.25">20260307</text>
<text x="443.30" y="23.90" font-size="13.00" textLength="20.51" lengthAdjust="spacingAndGlyphs" stroke="#000" stroke-width="0.25">12z</text>
<text x="469.00" y="23.90" font-size="13.00" textLength="3.88" lengthAdjust="spacingAndGlyphs" stroke="#000" stroke-width="0.25">-</text>
<text x="477.60" y="23.90" font-size="13.00" textLength="35.30" lengthAdjust="spacingAndGlyphs" stroke="#000" stroke-width="0.25">Valid:</text>
<text x="518.60" y="23.90" font-size="13.00" textLength="82.21" lengthAdjust="spacingAndGlyphs" stroke="#000" stroke-width="0.25">20260310:12</text>
<text x="605.90" y="23.90" font-size="13.00" textLength="16.48" lengthAdjust="spacingAndGlyphs" stroke="#000" stroke-width="0.25">TU</text>
<rect x="158.3" y="36" width="35.4" height="7.8" fill="#ffff00"/>
<rect x="193.5" y="36" width="35.4" height="7.8" fill="#ffd200"/>
<rect x="228.7" y="36" width="35.4" height="7.8" fill="#ffaa00"/>
<rect x="264" y="36" width="35.4" height="7.8" fill="#ff8200"/>
<rect x="299.2" y="36" width="35.4" height="7.8" fill="#ff5a00"/>
<rect x="334.4" y="36" width="35.4" height="7.8" fill="#ff2800"/>
<rect x="369.6" y="36" width="35.4" height="7.8" fill="#d20000"/>
<rect x="404.9" y="36" width="35.4" height="7.8" fill="#8c0000"/>
<rect x="440.1" y="36" width="35.4" height="7.8" fill="#5a0000"/>
<line x1="193.5" y1="36" x2="193.5" y2="43.8" stroke="#000" stroke-width="0.9"/>
<line x1="228.7" y1="36" x2="228.7" y2="43.8" stroke="#000" stroke-width="0.9"/>
<line x1="264" y1="36" x2="264" y2="43.8" stroke="#000" stroke-width="0.9"/>
<line x1="299.2" y1="36" x2="299.2" y2="43.8" stroke="#000" stroke-width="0.9"/>
<line x1="334.4" y1="36" x2="334.4" y2="43.8" stroke="#000" stroke-width="0.9"/>
<line x1="369.6" y1="36" x2="369.6" y2="43.8" stroke="#000" stroke-width="0.9"/>
<line x1="404.9" y1="36" x2="404.9" y2="43.8" stroke="#000" stroke-width="0.9"/>
<line x1="440.1" y1="36" x2="440.1" y2="43.8" stroke="#000" stroke-width="0.9"/>
<rect x="158.3" y="36" width="317" height="7.8" fill="none" stroke="#000" stroke-width="1.1"/>
<text x="153.10" y="31.50" font-size="10.20" textLength="10.40" lengthAdjust="spacingAndGlyphs">10</text>
<text x="188.32" y="31.50" font-size="10.20" textLength="10.40" lengthAdjust="spacingAndGlyphs">25</text>
<text x="223.54" y="31.50" font-size="10.20" textLength="10.40" lengthAdjust="spacingAndGlyphs">40</text>
<text x="258.77" y="31.50" font-size="10.20" textLength="10.40" lengthAdjust="spacingAndGlyphs">50</text>
<text x="293.99" y="31.50" font-size="10.20" textLength="10.40" lengthAdjust="spacingAndGlyphs">60</text>
<text x="329.21" y="31.50" font-size="10.20" textLength="10.40" lengthAdjust="spacingAndGlyphs">70</text>
<text x="364.43" y="31.50" font-size="10.20" textLength="10.40" lengthAdjust="spacingAndGlyphs">80</text>
<text x="399.65" y="31.50" font-size="10.20" textLength="10.40" lengthAdjust="spacingAndGlyphs">90</text>
<text x="434.88" y="31.50" font-size="10.20" textLength="10.40" lengthAdjust="spacingAndGlyphs">95</text>
<text x="466.70" y="31.50" font-size="10.20" textLength="17.22" lengthAdjust="spacingAndGlyphs">100</text>
<g transform="translate(141.1,49.3)"><g clip-path="url(#fc)">
<path fill="#ffff00" fill-rule="evenodd" d="M249.8,207.3 249.0,207.4 248.2,207.1 246.2,205.2 245.0,204.5 243.8,204.2 236.5,202.9 229.8,200.3 227.2,198.9 222.8,195.4 221.6,194.2 220.4,192.8 218.4,190.0 217.5,188.5 217.0,187.0 215.7,182.0 212.6,174.2 211.0,167.5 210.0,165.8 207.8,163.2 205.7,161.2 204.0,160.0 202.2,159.0 198.5,157.6 197.0,156.9 189.4,151.5 187.3,150.2 179.8,147.2 176.5,145.6 175.5,145.6 173.8,146.1 173.0,146.2 172.2,146.0 171.5,145.6 170.3,144.2 167.6,140.5 166.8,139.0 165.0,134.6 163.3,131.8 163.3,130.8 164.4,129.0 164.6,128.0 164.5,126.5 164.0,125.2 163.5,124.8 162.8,124.5 161.8,124.5 160.8,124.8 159.5,125.3 158.2,126.9 157.5,127.2 157.0,127.1 156.5,126.8 155.2,125.3 153.5,122.8 152.8,121.0 152.2,117.2 152.2,116.2 152.6,115.2 153.4,114.0 157.2,109.2 160.5,104.3 161.5,103.0 165.5,99.2 168.0,97.2 169.0,96.5 170.0,96.1 176.0,94.9 183.5,92.2 188.0,91.5 189.0,91.5 190.0,91.7 190.8,92.1 191.5,92.7 192.3,93.8 192.9,94.8 193.3,96.2 193.4,100.0 193.7,101.5 194.4,103.0 196.0,105.2 196.8,106.0 197.8,106.7 202.0,109.0 203.5,110.0 209.2,115.8 211.5,117.8 212.8,118.7 214.5,119.2 217.8,119.5 220.0,119.4 222.8,119.0 224.3,118.5 225.6,117.8 230.2,113.8 231.2,113.1 232.0,112.9 233.0,112.8 236.2,113.3 237.2,113.6 238.0,114.0 241.2,117.0 242.0,117.5 243.2,118.0 250.0,119.1 255.4,120.8 259.6,121.8 262.0,122.1 266.8,122.2 268.0,122.4 269.0,122.8 274.0,125.4 276.8,127.2 282.3,131.5 286.1,135.0 287.2,136.3 288.3,138.2 289.2,141.5 289.2,143.2 288.5,145.5 287.9,146.8 287.0,147.8 281.5,151.2 280.4,152.0 279.7,152.8 279.3,153.5 279.2,154.2 279.4,157.5 279.1,159.0 277.9,161.5 276.5,163.5 273.0,166.7 271.2,167.9 270.0,168.3 265.2,169.6 259.0,172.6 251.2,175.0 250.0,175.6 249.2,176.5 249.0,177.2 248.9,178.2 249.1,179.0 249.5,179.9 250.2,180.8 253.5,183.2 256.7,186.5 257.3,187.5 257.9,188.8 258.3,190.2 258.5,191.5 258.3,192.8 257.8,194.0 253.0,203.6 251.2,206.1 250.5,206.9 249.8,207.3Z M132.5,227.8 58.8,228.0 48.8,227.9 46.0,227.8 45.3,219.2 45.2,215.8 46.4,207.0 48.4,200.2 48.4,198.8 47.8,197.2 46.8,195.9 46.2,195.5 45.2,195.1 38.5,194.1 29.8,192.7 27.5,192.1 25.2,191.1 24.1,190.2 23.5,189.2 23.3,187.8 23.2,184.5 23.3,183.2 23.6,182.0 26.1,176.0 28.1,171.8 29.2,170.1 30.8,168.8 33.5,167.2 35.0,166.6 41.8,164.4 44.0,163.3 46.7,161.8 47.8,160.8 48.6,159.5 48.9,158.2 48.7,157.0 47.9,156.0 46.2,154.6 45.0,153.8 43.5,153.1 34.8,150.3 18.5,144.7 12.8,143.5 10.8,143.4 9.5,143.8 8.2,144.6 6.9,145.8 6.0,147.0 5.3,148.5 3.9,152.5 1.4,161.5 0.8,162.7 0.0,163.1 -0.1,158.5 -0.1,137.2 0.0,131.6 9.0,132.0 38.0,134.8 51.2,134.9 57.0,134.6 71.0,134.7 86.5,136.1 97.0,137.6 98.2,137.9 99.0,138.3 99.8,139.2 100.3,140.5 101.0,143.2 101.0,144.8 100.5,146.2 99.5,148.5 97.2,152.3 96.5,153.8 96.1,155.5 95.8,158.5 96.0,159.8 96.5,161.0 98.5,164.8 99.7,166.5 104.9,172.0 106.1,173.0 107.5,173.7 118.0,177.9 130.0,180.1 132.0,180.6 133.5,181.2 136.5,183.1 137.5,183.8 138.0,184.5 138.1,185.2 137.8,186.0 137.0,186.8 134.5,188.5 131.8,190.3 124.5,193.7 123.0,194.8 121.8,196.2 119.8,199.2 119.1,200.5 118.8,201.5 118.9,202.5 119.3,203.5 121.6,207.0 122.7,208.5 124.4,209.8 130.5,212.8 132.0,213.8 133.3,215.2 136.0,219.2 136.4,220.5 136.2,221.8 135.7,222.8 133.2,226.2 132.9,227.0 132.7,227.8 132.5,227.8Z M265.8,154.0 267.2,153.3 269.1,152.0 269.9,151.0 270.3,149.8 270.3,148.0 269.8,146.5 268.8,145.2 267.2,144.0 266.0,143.4 264.8,143.2 262.8,143.4 260.8,143.7 259.4,144.2 257.7,145.2 256.4,146.2 255.5,147.2 255.0,148.5 254.8,150.0 255.0,150.8 255.8,151.5 257.8,152.3 263.2,153.9 264.8,154.1 265.8,154.0Z M263.0,178.5 261.5,178.6 260.4,178.2 259.8,177.5 259.8,177.0 260.0,176.5 260.7,176.0 261.8,175.8 263.0,175.9 263.8,176.2 264.3,176.8 264.3,177.5 263.8,178.2 263.0,178.5Z M265.0,190.8 264.0,190.7 263.2,190.4 262.5,189.8 262.1,189.0 261.8,188.0 261.8,187.2 262.1,186.8 262.8,186.2 264.2,185.8 266.0,185.9 267.5,186.6 268.0,187.0 268.3,187.5 268.5,188.0 268.4,188.8 268.1,189.5 267.8,189.9 266.8,190.5 265.0,190.8Z"/>
<path fill="#ffd200" fill-rule="evenodd" d="M244.0,194.3 243.2,194.4 242.0,194.2 240.5,193.7 239.0,193.1 232.5,189.2 231.2,188.3 229.9,187.0 225.3,182.0 221.7,176.5 220.2,173.9 218.0,168.2 217.1,166.5 215.4,164.5 212.8,162.2 210.8,161.1 207.2,159.9 203.0,158.0 198.2,156.1 196.2,154.9 189.8,150.2 187.5,149.0 180.2,146.1 176.5,144.3 175.5,144.1 173.5,144.3 172.8,144.1 171.8,143.3 170.0,141.2 168.2,138.5 166.5,134.5 166.2,133.0 166.0,131.8 166.4,129.5 167.2,127.2 168.7,124.0 171.3,118.8 172.9,116.0 173.9,114.5 175.2,113.0 177.2,111.0 179.0,109.6 180.2,108.7 181.5,108.1 186.0,106.8 188.2,106.7 191.8,107.2 193.5,107.9 195.5,109.3 200.1,113.8 203.5,117.3 205.0,118.6 208.0,120.6 210.2,121.5 213.0,122.1 215.5,122.3 217.5,122.2 220.8,121.8 222.2,121.4 224.5,120.6 228.7,118.5 230.5,117.8 233.5,116.9 235.2,116.9 237.5,117.5 240.8,118.9 242.2,119.4 248.0,120.1 249.8,120.5 257.0,123.5 264.0,125.1 271.5,128.6 272.8,129.4 273.6,130.2 274.4,131.5 276.0,134.7 276.5,135.8 276.7,136.8 276.7,138.0 276.2,140.0 275.7,141.8 275.0,142.8 274.2,143.1 273.5,143.1 270.3,141.8 268.5,141.4 264.8,141.3 261.2,141.7 259.0,142.5 256.2,144.1 254.6,145.5 253.6,147.0 251.4,152.5 248.3,165.2 247.8,173.2 247.1,177.5 247.2,179.0 247.7,182.2 247.5,188.5 246.9,190.2 245.7,192.8 244.9,193.8 244.0,194.3Z M67.5,146.3 66.2,146.3 64.5,146.1 63.5,145.8 62.7,145.2 62.0,144.2 61.5,142.8 61.5,141.8 62.0,141.0 62.8,140.5 63.5,140.2 65.8,140.0 69.0,140.1 70.0,140.3 70.8,140.9 71.3,141.5 71.8,142.5 71.9,143.2 71.7,144.0 71.0,144.7 70.0,145.3 68.8,145.9 67.5,146.3Z M48.2,148.0 46.5,148.0 40.5,147.5 37.0,147.2 35.5,146.9 34.5,146.3 33.8,145.4 33.1,144.0 33.2,143.0 33.9,142.2 35.0,141.8 43.5,140.5 46.0,140.2 47.5,140.4 49.8,141.1 52.8,142.3 54.0,143.1 54.3,143.8 54.2,144.2 53.9,144.8 53.4,145.2 50.2,147.4 49.2,147.8 48.2,148.0Z M87.0,227.8 73.8,227.9 48.6,227.8 47.9,220.2 48.0,219.0 48.2,218.0 49.1,216.2 54.0,208.3 57.1,202.2 57.6,201.0 57.7,200.2 57.7,199.5 57.4,198.8 56.4,197.5 54.8,195.8 53.8,195.0 52.8,194.6 49.0,194.1 45.5,193.3 41.0,192.7 31.6,191.2 28.5,190.5 27.3,189.8 26.4,188.5 25.4,186.2 25.0,184.2 25.2,183.0 25.8,181.8 29.5,178.4 31.2,177.2 36.8,174.4 40.5,172.6 42.2,172.0 53.5,169.9 54.8,169.5 55.5,169.2 56.2,168.5 56.8,167.9 59.5,163.2 60.8,160.5 62.8,155.5 63.4,154.5 64.2,153.6 68.8,150.5 70.8,149.4 79.2,147.2 81.8,146.7 83.0,146.8 84.2,147.0 92.0,149.0 93.4,149.8 94.1,150.8 94.4,151.8 94.5,153.0 94.1,157.0 93.3,160.0 91.3,164.0 90.6,165.8 89.9,171.2 89.9,173.5 90.6,175.8 94.1,184.8 95.5,187.2 100.3,195.2 101.3,197.2 104.2,206.0 104.7,208.5 104.7,209.8 104.1,211.5 102.0,216.8 100.9,218.5 99.5,219.7 95.0,222.7 88.1,226.5 87.4,227.0 87.0,227.8Z"/>
<path fill="#ffaa00" fill-rule="evenodd" d="M239.2,182.8 238.8,182.9 238.0,182.9 237.2,182.5 236.5,181.8 235.7,180.2 233.4,173.8 232.4,172.0 227.2,165.8 226.0,164.7 223.2,162.9 222.0,162.2 220.8,161.7 215.0,160.6 211.0,159.3 207.5,158.4 199.0,155.3 196.8,154.0 189.0,148.6 187.0,147.7 180.2,145.0 176.8,143.3 174.0,142.4 172.2,141.2 170.5,139.5 168.8,137.1 168.0,135.7 167.5,134.5 167.3,133.2 167.2,132.0 167.2,130.8 167.5,129.5 168.2,127.8 170.2,123.8 172.9,119.0 175.5,115.5 178.0,112.9 179.2,112.0 180.8,111.2 183.0,110.5 186.0,109.8 188.5,109.8 191.2,110.1 192.8,110.5 193.8,110.9 194.7,111.8 198.8,117.1 202.2,120.6 203.8,121.9 204.8,122.5 206.5,123.2 211.0,124.6 213.5,125.2 216.2,125.4 224.0,125.2 226.0,124.8 232.5,122.9 234.8,122.4 241.2,121.6 247.0,121.4 248.5,121.6 249.8,121.9 256.0,125.1 257.5,125.6 262.0,126.5 262.8,126.8 263.5,127.3 263.9,128.0 264.1,128.8 264.1,132.2 263.9,133.8 263.2,134.7 262.5,135.2 261.5,135.5 253.2,137.1 252.5,137.5 251.9,138.0 251.0,139.5 248.5,145.8 247.6,148.2 247.2,150.2 246.0,158.5 241.3,172.0 240.8,174.5 240.1,181.2 239.8,182.2 239.2,182.8Z M67.5,144.3 66.2,144.4 64.8,144.1 64.1,143.5 63.9,143.0 64.0,142.7 64.4,142.2 65.2,142.0 66.8,142.0 68.0,142.3 68.6,142.8 68.7,143.2 68.2,143.9 67.5,144.3Z M91.0,205.8 90.2,206.0 89.2,205.9 84.0,204.7 82.2,204.2 80.8,203.4 71.2,195.2 70.2,194.0 69.2,191.2 68.8,190.7 68.2,190.4 67.5,190.2 66.8,190.3 58.0,191.9 55.5,192.1 41.0,189.9 31.8,188.9 30.0,188.3 28.8,187.2 27.8,185.9 27.1,184.8 26.9,184.0 27.0,183.2 27.8,182.2 31.3,179.8 36.3,177.2 39.1,176.2 46.2,174.4 51.5,173.3 61.2,172.2 62.8,172.2 64.2,172.5 68.3,174.5 69.2,175.1 70.0,175.7 70.8,177.0 72.4,181.0 72.8,181.6 73.2,182.1 73.8,182.3 74.5,182.3 78.8,181.0 79.8,181.0 80.5,181.1 81.8,181.8 84.2,183.5 88.2,186.5 89.5,187.8 90.7,189.8 93.1,194.8 93.6,196.0 93.8,197.0 93.7,198.8 92.4,204.0 91.8,205.2 91.0,205.8Z M79.0,227.8 55.9,227.8 55.9,218.5 56.0,217.2 56.3,216.5 57.0,215.5 58.2,214.6 65.8,210.2 66.8,209.8 67.8,209.5 68.8,209.4 70.0,209.8 78.2,213.0 79.6,214.0 80.3,215.2 80.8,217.2 81.9,223.5 81.9,224.5 81.5,225.4 79.7,227.0 79.1,227.8 79.0,227.8Z"/>
<path fill="#ff8200" fill-rule="evenodd" d="M226.2,159.0 223.2,159.2 221.2,159.2 213.5,157.9 208.5,156.8 199.8,154.0 197.2,152.8 189.0,147.4 187.2,146.6 179.2,143.5 175.0,141.4 172.5,139.8 170.5,137.8 168.8,135.2 168.2,133.5 168.1,131.2 168.3,129.8 169.0,128.0 171.8,122.8 173.8,119.7 177.0,115.9 178.0,115.1 179.2,114.4 182.2,113.4 185.2,112.7 187.8,112.5 190.5,112.7 191.5,112.9 192.2,113.3 193.7,114.8 195.1,116.5 196.1,118.0 198.1,122.5 198.8,123.2 199.8,123.8 205.0,125.4 210.5,127.5 212.0,127.9 214.5,128.0 223.8,127.6 232.0,127.6 233.5,127.8 235.2,128.4 240.0,130.1 241.8,131.0 242.7,132.0 243.7,133.5 246.1,138.5 246.7,140.2 246.7,141.5 246.4,143.5 245.2,149.0 244.5,150.8 243.8,151.8 242.5,153.0 238.0,156.8 236.5,157.7 235.5,158.1 234.2,158.3 226.2,159.0Z M47.0,187.3 45.2,187.3 44.0,187.2 43.0,186.9 41.5,186.3 38.2,184.7 37.0,183.9 36.6,183.5 36.3,183.0 36.4,182.2 37.1,181.5 38.2,180.8 44.4,177.8 46.2,177.0 48.5,176.5 57.0,175.5 59.5,175.5 60.5,175.7 61.2,176.0 62.0,176.5 63.0,177.5 64.1,178.8 64.5,179.5 64.7,180.2 64.7,180.8 64.3,181.5 63.9,182.0 60.8,184.6 58.8,185.9 57.5,186.3 56.0,186.5 47.0,187.3Z M84.5,201.8 83.0,201.7 82.0,201.4 81.1,200.8 80.4,199.8 79.6,197.5 78.3,193.0 78.3,191.8 78.6,191.2 79.0,191.0 79.5,190.9 80.2,190.9 82.8,191.7 84.0,192.4 84.8,193.4 85.2,194.5 86.1,197.8 86.5,200.0 86.3,200.8 86.0,201.2 85.5,201.6 84.5,201.8Z M76.2,225.5 74.5,225.6 73.0,225.5 72.1,225.0 71.5,224.2 71.1,222.8 70.5,216.8 70.6,215.5 70.9,215.0 71.2,214.7 72.0,214.5 72.8,214.6 75.5,215.4 76.8,216.1 77.5,217.0 78.0,219.1 78.4,222.5 78.4,223.8 78.2,224.5 77.8,225.0 77.2,225.3 76.2,225.5Z"/>
<path fill="#ff5a00" fill-rule="evenodd" d="M225.2,157.5 222.8,157.7 220.8,157.6 211.2,155.9 208.2,155.1 200.0,152.5 197.5,151.3 189.5,146.0 187.5,145.2 179.5,142.2 176.6,140.8 173.3,138.8 171.6,137.2 170.0,135.1 169.3,133.5 169.2,131.8 169.3,130.0 170.0,128.2 171.8,124.8 173.5,121.9 175.0,119.9 177.0,117.7 178.2,116.5 179.5,115.8 181.8,115.0 185.0,114.2 187.2,114.0 189.8,114.2 190.8,114.4 191.5,114.8 193.5,116.8 194.9,118.8 196.5,122.6 197.1,123.8 198.2,124.9 199.8,125.6 204.4,127.0 210.0,129.1 211.8,129.6 214.8,129.6 223.5,129.0 231.8,129.0 233.0,129.3 234.5,129.7 239.1,131.5 240.6,132.2 241.5,133.0 242.3,134.2 244.5,139.0 244.9,140.5 245.0,142.0 244.5,144.5 243.7,148.5 243.1,150.0 242.2,151.0 240.8,152.4 237.0,155.4 235.5,156.2 233.0,156.8 225.2,157.5Z M55.2,184.0 50.2,184.1 49.2,184.0 48.5,183.7 47.8,183.1 47.3,182.2 47.0,181.0 47.2,180.0 47.8,179.4 48.8,178.9 53.8,177.7 56.8,177.1 58.0,177.1 59.0,177.2 60.0,177.6 60.9,178.2 61.7,179.2 62.0,180.0 61.9,180.8 61.5,181.3 60.5,182.1 58.8,182.9 56.8,183.7 55.2,184.0Z"/>
<path fill="#ff2800" fill-rule="evenodd" d="M225.0,155.8 222.8,155.9 221.0,155.9 213.6,154.5 209.5,153.6 203.4,151.5 201.2,150.7 199.8,149.9 193.5,145.3 191.8,144.2 190.0,143.5 183.1,141.2 179.5,139.8 177.8,138.9 175.2,137.0 173.7,135.5 172.4,133.5 171.7,131.5 171.5,129.8 171.8,128.0 172.8,125.8 174.0,123.6 175.5,121.4 176.9,119.8 178.8,118.0 180.2,117.0 181.8,116.4 183.8,115.9 186.5,115.6 188.5,115.7 189.7,116.0 190.8,116.5 192.0,117.4 193.0,118.3 193.9,119.8 196.0,124.5 198.9,129.8 199.6,130.5 200.5,131.3 202.2,132.3 203.5,132.9 205.0,133.2 206.8,133.1 218.0,131.0 222.0,130.4 230.0,130.3 231.8,130.4 233.2,130.8 239.2,133.6 240.2,134.5 240.9,135.8 242.2,139.8 242.6,142.0 242.6,143.2 242.3,144.8 241.3,148.2 240.6,149.8 239.8,150.8 238.8,151.6 235.2,153.6 233.5,154.5 231.2,155.1 225.0,155.8Z M57.0,181.3 55.8,181.4 54.9,181.2 54.3,180.8 54.2,180.0 55.0,179.4 56.5,178.9 58.0,178.9 58.9,179.2 59.2,179.8 59.0,180.4 58.2,180.9 57.0,181.3Z"/>
<path fill="#d20000" fill-rule="evenodd" d="M229.5,152.8 223.5,152.9 220.0,152.8 212.8,151.5 208.0,150.3 204.7,149.0 200.5,147.2 192.8,142.3 189.0,140.3 187.5,139.7 183.0,138.2 179.2,136.6 177.9,135.8 176.9,134.8 175.8,133.0 174.8,131.0 174.5,129.5 174.4,127.8 174.7,126.2 175.2,125.0 176.3,123.2 178.1,121.0 179.5,119.6 181.0,118.5 182.2,117.8 183.5,117.5 185.5,117.3 187.5,117.4 188.8,117.6 189.9,118.2 191.3,119.2 192.2,120.3 192.9,121.5 193.7,123.2 196.1,130.5 196.8,132.0 197.8,133.5 198.8,134.8 199.8,135.5 201.0,136.0 203.0,136.6 204.8,136.5 212.0,134.2 219.7,132.5 222.5,132.0 224.8,131.9 230.2,132.0 231.7,132.2 232.9,132.8 236.8,135.2 237.7,136.0 238.2,136.7 239.0,138.2 240.0,141.2 240.2,142.5 240.1,143.8 238.8,147.8 238.3,148.8 237.8,149.3 236.3,150.2 232.8,151.9 231.0,152.5 229.5,152.8Z"/>
<path fill="#8c0000" fill-rule="evenodd" d="M188.2,136.0 186.2,136.2 184.5,136.0 182.8,135.6 180.8,134.7 179.8,134.0 179.0,133.0 178.1,131.5 177.5,130.0 177.2,128.5 177.2,127.0 177.4,125.8 177.7,124.8 178.8,123.2 180.8,121.0 182.0,120.0 183.0,119.5 184.5,119.3 186.2,119.3 187.5,119.6 188.5,120.1 190.0,121.5 191.0,122.8 191.8,124.1 192.5,126.3 193.1,128.2 193.2,129.8 193.0,131.2 192.2,133.6 191.7,134.5 190.9,135.2 190.0,135.7 188.2,136.0Z M224.8,150.3 221.8,150.3 218.0,149.9 214.0,149.1 212.2,148.5 211.2,147.8 210.1,146.8 209.5,146.0 209.0,145.2 208.9,144.5 209.0,143.8 209.9,141.8 210.5,140.8 211.4,139.8 214.8,137.2 216.5,136.2 219.2,135.3 222.8,134.4 224.8,134.2 230.0,134.8 231.0,135.1 232.0,135.5 233.0,136.3 234.4,137.8 235.2,138.8 235.8,139.8 236.1,141.0 236.1,142.8 235.9,144.2 235.6,145.2 234.9,146.2 233.6,147.8 232.7,148.5 231.8,149.1 229.8,149.7 224.8,150.3Z"/>
<path fill="#5a0000" fill-rule="evenodd" d="M186.8,133.8 185.5,133.9 184.5,133.9 182.8,133.3 181.8,132.6 181.0,131.9 180.5,131.2 180.1,130.2 180.0,129.0 180.0,127.0 180.1,126.0 180.5,125.2 181.1,124.5 182.0,123.8 183.2,123.1 184.2,122.7 185.2,122.7 186.0,122.9 187.0,123.6 188.0,124.4 189.1,126.0 190.1,128.5 190.2,129.5 190.1,130.2 189.8,131.2 189.2,132.2 188.2,133.2 186.8,133.8Z M222.0,147.5 217.8,147.4 215.8,147.0 214.2,146.4 213.6,145.8 213.3,144.8 213.5,143.5 214.0,142.2 214.7,141.5 215.5,140.8 219.0,138.9 221.0,138.3 225.2,137.6 226.8,137.6 228.2,138.0 230.1,139.2 231.4,140.5 232.0,141.8 232.4,143.5 232.3,144.2 232.0,144.8 231.3,145.5 229.5,146.3 227.2,147.1 222.0,147.5Z"/>
<use href="#mapg"/>
</g></g>
<text x="322.30" y="254.60" font-size="9.70" textLength="22.20" lengthAdjust="spacingAndGlyphs">from</text>
<text x="347.56" y="254.60" font-size="9.70" textLength="18.73" lengthAdjust="spacingAndGlyphs">grib</text>
<text x="369.30" y="254.60" font-size="9.70" textLength="19.50" lengthAdjust="spacingAndGlyphs">files</text>
<text x="391.86" y="254.60" font-size="9.70" textLength="41.96" lengthAdjust="spacingAndGlyphs">provided</text>
<text x="436.82" y="254.60" font-size="9.70" textLength="11.69" lengthAdjust="spacingAndGlyphs">by</text>
<text x="451.57" y="254.60" font-size="9.70" textLength="35.89" lengthAdjust="spacingAndGlyphs">ECMWF</text>
<text x="381.20" y="274.20" font-size="10.30" textLength="33.15" lengthAdjust="spacingAndGlyphs">©2026</text>
<text x="417.32" y="274.20" font-size="10.30" textLength="69.80" lengthAdjust="spacingAndGlyphs">sb@irizone.net</text>
<path d="M141.1,48.7V277.9M493,48.7V277.9" stroke="#8a8a8a" stroke-width="1.6" fill="none"/>
<path d="M140.3,49.3H493.8M140.3,277.3H493.8" stroke="#404040" stroke-width="1.3" fill="none"/>
<text x="11.50" y="292.20" font-size="13.00" textLength="19.02" lengthAdjust="spacingAndGlyphs" stroke="#000" stroke-width="0.25">IFS</text>
<text x="34.30" y="292.20" font-size="13.00" textLength="4.18" lengthAdjust="spacingAndGlyphs" stroke="#000" stroke-width="0.25">-</text>
<text x="43.80" y="292.20" font-size="13.00" textLength="79.21" lengthAdjust="spacingAndGlyphs" stroke="#000" stroke-width="0.25">Probabilities</text>
<text x="128.10" y="292.20" font-size="13.00" textLength="28.62" lengthAdjust="spacingAndGlyphs" stroke="#000" stroke-width="0.25">total</text>
<text x="161.70" y="292.20" font-size="13.00" textLength="109.30" lengthAdjust="spacingAndGlyphs" stroke="#000" stroke-width="0.25">precipitation/24h</text>
<text x="276.70" y="292.20" font-size="13.00" textLength="8.29" lengthAdjust="spacingAndGlyphs" stroke="#000" stroke-width="0.25">&gt;</text>
<text x="291.90" y="292.20" font-size="13.00" textLength="14.01" lengthAdjust="spacingAndGlyphs" stroke="#000" stroke-width="0.25">50</text>
<text x="312.20" y="292.20" font-size="13.00" textLength="28.82" lengthAdjust="spacingAndGlyphs" stroke="#000" stroke-width="0.25">mm,</text>
<text x="345.70" y="292.20" font-size="13.00" textLength="23.80" lengthAdjust="spacingAndGlyphs" stroke="#000" stroke-width="0.25">Init:</text>
<text x="373.90" y="292.20" font-size="13.00" textLength="62.99" lengthAdjust="spacingAndGlyphs" stroke="#000" stroke-width="0.25">20260307</text>
<text x="443.30" y="292.20" font-size="13.00" textLength="20.51" lengthAdjust="spacingAndGlyphs" stroke="#000" stroke-width="0.25">12z</text>
<text x="469.00" y="292.20" font-size="13.00" textLength="3.88" lengthAdjust="spacingAndGlyphs" stroke="#000" stroke-width="0.25">-</text>
<text x="477.60" y="292.20" font-size="13.00" textLength="35.30" lengthAdjust="spacingAndGlyphs" stroke="#000" stroke-width="0.25">Valid:</text>
<text x="518.60" y="292.20" font-size="13.00" textLength="82.21" lengthAdjust="spacingAndGlyphs" stroke="#000" stroke-width="0.25">20260310:12</text>
<text x="605.90" y="292.20" font-size="13.00" textLength="16.48" lengthAdjust="spacingAndGlyphs" stroke="#000" stroke-width="0.25">TU</text>
<rect x="158.3" y="304.3" width="35.4" height="7.8" fill="#ffff00"/>
<rect x="193.5" y="304.3" width="35.4" height="7.8" fill="#ffd200"/>
<rect x="228.7" y="304.3" width="35.4" height="7.8" fill="#ffaa00"/>
<rect x="264" y="304.3" width="35.4" height="7.8" fill="#ff8200"/>
<rect x="299.2" y="304.3" width="35.4" height="7.8" fill="#ff5a00"/>
<rect x="334.4" y="304.3" width="35.4" height="7.8" fill="#ff2800"/>
<rect x="369.6" y="304.3" width="35.4" height="7.8" fill="#d20000"/>
<rect x="404.9" y="304.3" width="35.4" height="7.8" fill="#8c0000"/>
<rect x="440.1" y="304.3" width="35.4" height="7.8" fill="#5a0000"/>
<line x1="193.5" y1="304.3" x2="193.5" y2="312.1" stroke="#000" stroke-width="0.9"/>
<line x1="228.7" y1="304.3" x2="228.7" y2="312.1" stroke="#000" stroke-width="0.9"/>
<line x1="264" y1="304.3" x2="264" y2="312.1" stroke="#000" stroke-width="0.9"/>
<line x1="299.2" y1="304.3" x2="299.2" y2="312.1" stroke="#000" stroke-width="0.9"/>
<line x1="334.4" y1="304.3" x2="334.4" y2="312.1" stroke="#000" stroke-width="0.9"/>
<line x1="369.6" y1="304.3" x2="369.6" y2="312.1" stroke="#000" stroke-width="0.9"/>
<line x1="404.9" y1="304.3" x2="404.9" y2="312.1" stroke="#000" stroke-width="0.9"/>
<line x1="440.1" y1="304.3" x2="440.1" y2="312.1" stroke="#000" stroke-width="0.9"/>
<rect x="158.3" y="304.3" width="317" height="7.8" fill="none" stroke="#000" stroke-width="1.1"/>
<text x="153.10" y="299.80" font-size="10.20" textLength="10.40" lengthAdjust="spacingAndGlyphs">10</text>
<text x="188.32" y="299.80" font-size="10.20" textLength="10.40" lengthAdjust="spacingAndGlyphs">25</text>
<text x="223.54" y="299.80" font-size="10.20" textLength="10.40" lengthAdjust="spacingAndGlyphs">40</text>
<text x="258.77" y="299.80" font-size="10.20" textLength="10.40" lengthAdjust="spacingAndGlyphs">50</text>
<text x="293.99" y="299.80" font-size="10.20" textLength="10.40" lengthAdjust="spacingAndGlyphs">60</text>
<text x="329.21" y="299.80" font-size="10.20" textLength="10.40" lengthAdjust="spacingAndGlyphs">70</text>
<text x="364.43" y="299.80" font-size="10.20" textLength="10.40" lengthAdjust="spacingAndGlyphs">80</text>
<text x="399.65" y="299.80" font-size="10.20" textLength="10.40" lengthAdjust="spacingAndGlyphs">90</text>
<text x="434.88" y="299.80" font-size="10.20" textLength="10.40" lengthAdjust="spacingAndGlyphs">95</text>
<text x="466.70" y="299.80" font-size="10.20" textLength="17.22" lengthAdjust="spacingAndGlyphs">100</text>
<g transform="translate(141.1,317.6)"><g clip-path="url(#fc)">
<use href="#mapg"/>
</g></g>
<text x="322.30" y="522.90" font-size="9.70" textLength="22.20" lengthAdjust="spacingAndGlyphs">from</text>
<text x="347.56" y="522.90" font-size="9.70" textLength="18.73" lengthAdjust="spacingAndGlyphs">grib</text>
<text x="369.30" y="522.90" font-size="9.70" textLength="19.50" lengthAdjust="spacingAndGlyphs">files</text>
<text x="391.86" y="522.90" font-size="9.70" textLength="41.96" lengthAdjust="spacingAndGlyphs">provided</text>
<text x="436.82" y="522.90" font-size="9.70" textLength="11.69" lengthAdjust="spacingAndGlyphs">by</text>
<text x="451.57" y="522.90" font-size="9.70" textLength="35.89" lengthAdjust="spacingAndGlyphs">ECMWF</text>
<text x="381.20" y="542.50" font-size="10.30" textLength="33.15" lengthAdjust="spacingAndGlyphs">©2026</text>
<text x="417.32" y="542.50" font-size="10.30" textLength="69.80" lengthAdjust="spacingAndGlyphs">sb@irizone.net</text>
<path d="M141.1,317V546.2M493,317V546.2" stroke="#8a8a8a" stroke-width="1.6" fill="none"/>
<path d="M140.3,317.6H493.8M140.3,545.6H493.8" stroke="#404040" stroke-width="1.3" fill="none"/>
<text x="7.40" y="560.90" font-size="13.00" textLength="19.02" lengthAdjust="spacingAndGlyphs" stroke="#000" stroke-width="0.25">IFS</text>
<text x="30.20" y="560.90" font-size="13.00" textLength="4.18" lengthAdjust="spacingAndGlyphs" stroke="#000" stroke-width="0.25">-</text>
<text x="39.70" y="560.90" font-size="13.00" textLength="79.21" lengthAdjust="spacingAndGlyphs" stroke="#000" stroke-width="0.25">Probabilities</text>
<text x="124.00" y="560.90" font-size="13.00" textLength="28.62" lengthAdjust="spacingAndGlyphs" stroke="#000" stroke-width="0.25">total</text>
<text x="157.60" y="560.90" font-size="13.00" textLength="109.30" lengthAdjust="spacingAndGlyphs" stroke="#000" stroke-width="0.25">precipitation/24h</text>
<text x="272.60" y="560.90" font-size="13.00" textLength="8.29" lengthAdjust="spacingAndGlyphs" stroke="#000" stroke-width="0.25">&gt;</text>
<text x="287.80" y="560.90" font-size="13.00" textLength="22.39" lengthAdjust="spacingAndGlyphs" stroke="#000" stroke-width="0.25">100</text>
<text x="316.30" y="560.90" font-size="13.00" textLength="28.82" lengthAdjust="spacingAndGlyphs" stroke="#000" stroke-width="0.25">mm,</text>
<text x="349.80" y="560.90" font-size="13.00" textLength="23.80" lengthAdjust="spacingAndGlyphs" stroke="#000" stroke-width="0.25">Init:</text>
<text x="378.00" y="560.90" font-size="13.00" textLength="62.99" lengthAdjust="spacingAndGlyphs" stroke="#000" stroke-width="0.25">20260307</text>
<text x="447.40" y="560.90" font-size="13.00" textLength="20.51" lengthAdjust="spacingAndGlyphs" stroke="#000" stroke-width="0.25">12z</text>
<text x="473.10" y="560.90" font-size="13.00" textLength="3.88" lengthAdjust="spacingAndGlyphs" stroke="#000" stroke-width="0.25">-</text>
<text x="481.70" y="560.90" font-size="13.00" textLength="35.30" lengthAdjust="spacingAndGlyphs" stroke="#000" stroke-width="0.25">Valid:</text>
<text x="522.70" y="560.90" font-size="13.00" textLength="82.21" lengthAdjust="spacingAndGlyphs" stroke="#000" stroke-width="0.25">20260310:12</text>
<text x="610.00" y="560.90" font-size="13.00" textLength="16.48" lengthAdjust="spacingAndGlyphs" stroke="#000" stroke-width="0.25">TU</text>
<rect x="158.3" y="573" width="35.4" height="7.8" fill="#ffff00"/>
<rect x="193.5" y="573" width="35.4" height="7.8" fill="#ffd200"/>
<rect x="228.7" y="573" width="35.4" height="7.8" fill="#ffaa00"/>
<rect x="264" y="573" width="35.4" height="7.8" fill="#ff8200"/>
<rect x="299.2" y="573" width="35.4" height="7.8" fill="#ff5a00"/>
<rect x="334.4" y="573" width="35.4" height="7.8" fill="#ff2800"/>
<rect x="369.6" y="573" width="35.4" height="7.8" fill="#d20000"/>
<rect x="404.9" y="573" width="35.4" height="7.8" fill="#8c0000"/>
<rect x="440.1" y="573" width="35.4" height="7.8" fill="#5a0000"/>
<line x1="193.5" y1="573" x2="193.5" y2="580.8" stroke="#000" stroke-width="0.9"/>
<line x1="228.7" y1="573" x2="228.7" y2="580.8" stroke="#000" stroke-width="0.9"/>
<line x1="264" y1="573" x2="264" y2="580.8" stroke="#000" stroke-width="0.9"/>
<line x1="299.2" y1="573" x2="299.2" y2="580.8" stroke="#000" stroke-width="0.9"/>
<line x1="334.4" y1="573" x2="334.4" y2="580.8" stroke="#000" stroke-width="0.9"/>
<line x1="369.6" y1="573" x2="369.6" y2="580.8" stroke="#000" stroke-width="0.9"/>
<line x1="404.9" y1="573" x2="404.9" y2="580.8" stroke="#000" stroke-width="0.9"/>
<line x1="440.1" y1="573" x2="440.1" y2="580.8" stroke="#000" stroke-width="0.9"/>
<rect x="158.3" y="573" width="317" height="7.8" fill="none" stroke="#000" stroke-width="1.1"/>
<text x="153.10" y="568.50" font-size="10.20" textLength="10.40" lengthAdjust="spacingAndGlyphs">10</text>
<text x="188.32" y="568.50" font-size="10.20" textLength="10.40" lengthAdjust="spacingAndGlyphs">25</text>
<text x="223.54" y="568.50" font-size="10.20" textLength="10.40" lengthAdjust="spacingAndGlyphs">40</text>
<text x="258.77" y="568.50" font-size="10.20" textLength="10.40" lengthAdjust="spacingAndGlyphs">50</text>
<text x="293.99" y="568.50" font-size="10.20" textLength="10.40" lengthAdjust="spacingAndGlyphs">60</text>
<text x="329.21" y="568.50" font-size="10.20" textLength="10.40" lengthAdjust="spacingAndGlyphs">70</text>
<text x="364.43" y="568.50" font-size="10.20" textLength="10.40" lengthAdjust="spacingAndGlyphs">80</text>
<text x="399.65" y="568.50" font-size="10.20" textLength="10.40" lengthAdjust="spacingAndGlyphs">90</text>
<text x="434.88" y="568.50" font-size="10.20" textLength="10.40" lengthAdjust="spacingAndGlyphs">95</text>
<text x="466.70" y="568.50" font-size="10.20" textLength="17.22" lengthAdjust="spacingAndGlyphs">100</text>
<g transform="translate(141.1,586.3)"><g clip-path="url(#fc)">
<use href="#mapg"/>
</g></g>
<text x="322.30" y="791.60" font-size="9.70" textLength="22.20" lengthAdjust="spacingAndGlyphs">from</text>
<text x="347.56" y="791.60" font-size="9.70" textLength="18.73" lengthAdjust="spacingAndGlyphs">grib</text>
<text x="369.30" y="791.60" font-size="9.70" textLength="19.50" lengthAdjust="spacingAndGlyphs">files</text>
<text x="391.86" y="791.60" font-size="9.70" textLength="41.96" lengthAdjust="spacingAndGlyphs">provided</text>
<text x="436.82" y="791.60" font-size="9.70" textLength="11.69" lengthAdjust="spacingAndGlyphs">by</text>
<text x="451.57" y="791.60" font-size="9.70" textLength="35.89" lengthAdjust="spacingAndGlyphs">ECMWF</text>
<text x="381.20" y="811.20" font-size="10.30" textLength="33.15" lengthAdjust="spacingAndGlyphs">©2026</text>
<text x="417.32" y="811.20" font-size="10.30" textLength="69.80" lengthAdjust="spacingAndGlyphs">sb@irizone.net</text>
<path d="M141.1,585.7V814.9M493,585.7V814.9" stroke="#8a8a8a" stroke-width="1.6" fill="none"/>
<path d="M140.3,586.3H493.8M140.3,814.3H493.8" stroke="#404040" stroke-width="1.3" fill="none"/>
</svg></body></html>
